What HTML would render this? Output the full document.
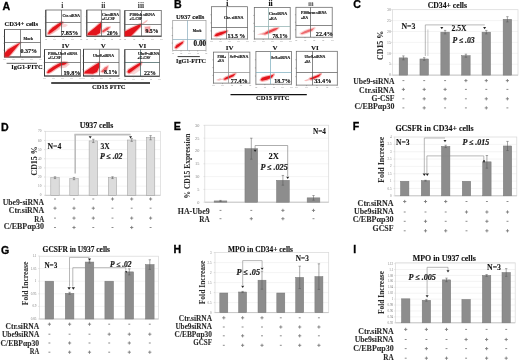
<!DOCTYPE html>
<html><head><meta charset="utf-8"><style>
html,body{margin:0;padding:0;background:#fff;width:520px;height:361px;overflow:hidden;}
svg{display:block;filter:blur(0.5px);}
</style></head><body>
<svg width="520" height="361" viewBox="0 0 520 361">
<rect width="520" height="361" fill="#fff"/>
<text x="2.50" y="9.60" font-size="10.60" font-family='"Liberation Sans", sans-serif' font-weight="bold" fill="#000" stroke="#000" stroke-width="0.3">A</text>
<text x="173.90" y="8.20" font-size="10.60" font-family='"Liberation Sans", sans-serif' font-weight="bold" fill="#000" stroke="#000" stroke-width="0.3">B</text>
<text x="353.30" y="8.20" font-size="10.60" font-family='"Liberation Sans", sans-serif' font-weight="bold" fill="#000" stroke="#000" stroke-width="0.3">C</text>
<text x="1.10" y="130.50" font-size="10.60" font-family='"Liberation Sans", sans-serif' font-weight="bold" fill="#000" stroke="#000" stroke-width="0.3">D</text>
<text x="173.80" y="129.60" font-size="10.60" font-family='"Liberation Sans", sans-serif' font-weight="bold" fill="#000" stroke="#000" stroke-width="0.3">E</text>
<text x="352.70" y="130.20" font-size="10.60" font-family='"Liberation Sans", sans-serif' font-weight="bold" fill="#000" stroke="#000" stroke-width="0.3">F</text>
<text x="1.10" y="253.90" font-size="10.60" font-family='"Liberation Sans", sans-serif' font-weight="bold" fill="#000" stroke="#000" stroke-width="0.3">G</text>
<text x="173.60" y="253.30" font-size="10.60" font-family='"Liberation Sans", sans-serif' font-weight="bold" fill="#000" stroke="#000" stroke-width="0.3">H</text>
<text x="353.30" y="253.30" font-size="10.60" font-family='"Liberation Sans", sans-serif' font-weight="bold" fill="#000" stroke="#000" stroke-width="0.3">I</text>
<text x="4.60" y="26.00" font-size="6.55" font-family='"Liberation Serif", serif' font-weight="bold" fill="#111" textLength="33.40" lengthAdjust="spacingAndGlyphs" stroke="#111" stroke-width="0.12">CD34+ cells</text>
<rect x="4.50" y="29.50" width="36.00" height="27.50" fill="#fff" stroke="#777" stroke-width="0.9" />
<line x1="4.50" y1="29.50" x2="4.50" y2="57.00" stroke="#333" stroke-width="0.9" />
<line x1="4.50" y1="57.00" x2="40.50" y2="57.00" stroke="#333" stroke-width="0.9" />
<path d="M4.8,56.8 L4.8,53 L8,49.5 L14,46 L20.5,42.5 L16.5,47.5 L11.5,53.5 L8.5,56.8 Z" fill="none" stroke="#f05a5a" stroke-width="2.2" opacity="0.45" stroke-linejoin="round"/>
<path d="M4.8,56.8 L4.8,53 L8,49.5 L14,46 L20.5,42.5 L16.5,47.5 L11.5,53.5 L8.5,56.8 Z" fill="#e3141c" stroke="none" stroke-width="1" opacity="1"/>
<line x1="20.50" y1="29.50" x2="20.50" y2="57.00" stroke="#555" stroke-width="0.7" />
<line x1="4.50" y1="42.50" x2="40.50" y2="42.50" stroke="#555" stroke-width="0.7" />
<text x="23.50" y="39.50" font-size="4.08" font-family='"Liberation Serif", serif' font-weight="bold" fill="#111" textLength="9.50" lengthAdjust="spacingAndGlyphs" stroke="#111" stroke-width="0.14">Mock</text>
<text x="20.50" y="53.20" font-size="6.18" font-family='"Liberation Serif", serif' font-weight="bold" fill="#000" textLength="16.50" lengthAdjust="spacingAndGlyphs" stroke="#000" stroke-width="0.12">0.37%</text>
<line x1="4.50" y1="57.00" x2="4.50" y2="58.00" stroke="#666" stroke-width="0.4" />
<text x="4.50" y="60.30" font-size="2.50" font-family='"Liberation Serif", serif' font-weight="normal" fill="#666" text-anchor="middle">10</text>
<line x1="13.50" y1="57.00" x2="13.50" y2="58.00" stroke="#666" stroke-width="0.4" />
<text x="13.50" y="60.30" font-size="2.50" font-family='"Liberation Serif", serif' font-weight="normal" fill="#666" text-anchor="middle">10</text>
<line x1="22.50" y1="57.00" x2="22.50" y2="58.00" stroke="#666" stroke-width="0.4" />
<text x="22.50" y="60.30" font-size="2.50" font-family='"Liberation Serif", serif' font-weight="normal" fill="#666" text-anchor="middle">10</text>
<line x1="31.50" y1="57.00" x2="31.50" y2="58.00" stroke="#666" stroke-width="0.4" />
<text x="31.50" y="60.30" font-size="2.50" font-family='"Liberation Serif", serif' font-weight="normal" fill="#666" text-anchor="middle">10</text>
<line x1="40.50" y1="57.00" x2="40.50" y2="58.00" stroke="#666" stroke-width="0.4" />
<text x="40.50" y="60.30" font-size="2.50" font-family='"Liberation Serif", serif' font-weight="normal" fill="#666" text-anchor="middle">10</text>
<line x1="3.50" y1="50.12" x2="4.50" y2="50.12" stroke="#666" stroke-width="0.5" />
<line x1="3.50" y1="43.25" x2="4.50" y2="43.25" stroke="#666" stroke-width="0.5" />
<line x1="3.50" y1="36.38" x2="4.50" y2="36.38" stroke="#666" stroke-width="0.5" />
<text x="11.20" y="68.80" font-size="6.42" font-family='"Liberation Serif", serif' font-weight="bold" fill="#111" textLength="31.40" lengthAdjust="spacingAndGlyphs" stroke="#111" stroke-width="0.12">IgG1-FITC</text>
<line x1="6.60" y1="63.30" x2="37.00" y2="63.30" stroke="#333" stroke-width="0.8" />
<text x="62.40" y="7.80" font-size="7.50" font-family='"Liberation Serif", serif' font-weight="bold" fill="#333" text-anchor="middle">i</text>
<rect x="45.80" y="10.00" width="35.20" height="26.40" fill="#fff" stroke="#777" stroke-width="0.9" />
<line x1="45.80" y1="10.00" x2="45.80" y2="36.40" stroke="#333" stroke-width="0.9" />
<line x1="45.80" y1="36.40" x2="81.00" y2="36.40" stroke="#333" stroke-width="0.9" />
<path d="M48,33.5 L49.5,30.5 L53,27.3 L57.5,24.3 L61.5,21.8 L63,22.5 L60.5,25.5 L56,29.2 L51.5,32.5 L49,34 Z" fill="none" stroke="#f05a5a" stroke-width="2.2" opacity="0.45" stroke-linejoin="round"/>
<path d="M47,35 L48,32 L52,28.5 L56,27 L60,25 L60,29 L54,33 L49,35.5 Z" fill="#f09090" stroke="none" stroke-width="1" opacity="0.45"/>
<path d="M48,33.5 L49.5,30.5 L53,27.3 L57.5,24.3 L61.5,21.8 L63,22.5 L60.5,25.5 L56,29.2 L51.5,32.5 L49,34 Z" fill="#e3141c" stroke="none" stroke-width="1" opacity="1"/>
<path d="M61,24.5 L65,23.8 L68,25 L65.5,27 L61.5,27.5 Z" fill="#f09090" stroke="none" stroke-width="1" opacity="0.35"/>
<line x1="61.50" y1="10.00" x2="61.50" y2="36.40" stroke="#555" stroke-width="0.7" />
<line x1="45.80" y1="22.50" x2="81.00" y2="22.50" stroke="#555" stroke-width="0.7" />
<text x="62.50" y="16.50" font-size="3.88" font-family='"Liberation Serif", serif' font-weight="bold" fill="#111" textLength="17.50" lengthAdjust="spacingAndGlyphs" stroke="#111" stroke-width="0.14">Ctr. siRNA</text>
<text x="61.20" y="34.80" font-size="6.40" font-family='"Liberation Serif", serif' font-weight="bold" fill="#000" textLength="17.10" lengthAdjust="spacingAndGlyphs" stroke="#000" stroke-width="0.12">7.85%</text>
<line x1="45.80" y1="36.40" x2="45.80" y2="37.40" stroke="#666" stroke-width="0.4" />
<text x="45.80" y="39.70" font-size="2.50" font-family='"Liberation Serif", serif' font-weight="normal" fill="#666" text-anchor="middle">10</text>
<line x1="54.60" y1="36.40" x2="54.60" y2="37.40" stroke="#666" stroke-width="0.4" />
<text x="54.60" y="39.70" font-size="2.50" font-family='"Liberation Serif", serif' font-weight="normal" fill="#666" text-anchor="middle">10</text>
<line x1="63.40" y1="36.40" x2="63.40" y2="37.40" stroke="#666" stroke-width="0.4" />
<text x="63.40" y="39.70" font-size="2.50" font-family='"Liberation Serif", serif' font-weight="normal" fill="#666" text-anchor="middle">10</text>
<line x1="72.20" y1="36.40" x2="72.20" y2="37.40" stroke="#666" stroke-width="0.4" />
<text x="72.20" y="39.70" font-size="2.50" font-family='"Liberation Serif", serif' font-weight="normal" fill="#666" text-anchor="middle">10</text>
<line x1="81.00" y1="36.40" x2="81.00" y2="37.40" stroke="#666" stroke-width="0.4" />
<text x="81.00" y="39.70" font-size="2.50" font-family='"Liberation Serif", serif' font-weight="normal" fill="#666" text-anchor="middle">10</text>
<line x1="44.80" y1="29.80" x2="45.80" y2="29.80" stroke="#666" stroke-width="0.5" />
<line x1="44.80" y1="23.20" x2="45.80" y2="23.20" stroke="#666" stroke-width="0.5" />
<line x1="44.80" y1="16.60" x2="45.80" y2="16.60" stroke="#666" stroke-width="0.5" />
<text x="103.30" y="7.80" font-size="7.50" font-family='"Liberation Serif", serif' font-weight="bold" fill="#333" text-anchor="middle">ii</text>
<rect x="86.80" y="10.00" width="33.20" height="26.20" fill="#fff" stroke="#777" stroke-width="0.9" />
<line x1="86.80" y1="10.00" x2="86.80" y2="36.20" stroke="#333" stroke-width="0.9" />
<line x1="86.80" y1="36.20" x2="120.00" y2="36.20" stroke="#333" stroke-width="0.9" />
<path d="M87.5,35 L88,33 L95,27.5 L101.2,22.2 L101.2,26 L100,33 L96,35.2 Z" fill="none" stroke="#f05a5a" stroke-width="2.2" opacity="0.45" stroke-linejoin="round"/>
<path d="M102,31 L107,27.5 L110,27 L108,29.5 L103,32.5 Z" fill="none" stroke="#f05a5a" stroke-width="2.2" opacity="0.32" stroke-linejoin="round"/>
<path d="M87.5,35 L88,33 L95,27.5 L101.2,22.2 L101.2,26 L100,33 L96,35.2 Z" fill="#e3141c" stroke="none" stroke-width="1" opacity="1"/>
<path d="M102,31 L107,27.5 L110,27 L108,29.5 L103,32.5 Z" fill="#e3141c" stroke="none" stroke-width="1" opacity="0.7"/>
<line x1="101.50" y1="10.00" x2="101.50" y2="36.20" stroke="#555" stroke-width="0.7" />
<line x1="86.80" y1="22.50" x2="120.00" y2="22.50" stroke="#555" stroke-width="0.7" />
<text x="102.00" y="15.80" font-size="3.97" font-family='"Liberation Serif", serif' font-weight="bold" fill="#111" textLength="17.00" lengthAdjust="spacingAndGlyphs" stroke="#111" stroke-width="0.14">Ctr.siRNA</text>
<text x="102.00" y="19.80" font-size="3.82" font-family='"Liberation Serif", serif' font-weight="bold" fill="#111" textLength="13.00" lengthAdjust="spacingAndGlyphs" stroke="#111" stroke-width="0.14">+G-CSF</text>
<text x="107.00" y="34.80" font-size="5.67" font-family='"Liberation Serif", serif' font-weight="bold" fill="#000" textLength="11.00" lengthAdjust="spacingAndGlyphs" stroke="#000" stroke-width="0.12">20%</text>
<line x1="86.80" y1="36.20" x2="86.80" y2="37.20" stroke="#666" stroke-width="0.4" />
<text x="86.80" y="39.50" font-size="2.50" font-family='"Liberation Serif", serif' font-weight="normal" fill="#666" text-anchor="middle">10</text>
<line x1="95.10" y1="36.20" x2="95.10" y2="37.20" stroke="#666" stroke-width="0.4" />
<text x="95.10" y="39.50" font-size="2.50" font-family='"Liberation Serif", serif' font-weight="normal" fill="#666" text-anchor="middle">10</text>
<line x1="103.40" y1="36.20" x2="103.40" y2="37.20" stroke="#666" stroke-width="0.4" />
<text x="103.40" y="39.50" font-size="2.50" font-family='"Liberation Serif", serif' font-weight="normal" fill="#666" text-anchor="middle">10</text>
<line x1="111.70" y1="36.20" x2="111.70" y2="37.20" stroke="#666" stroke-width="0.4" />
<text x="111.70" y="39.50" font-size="2.50" font-family='"Liberation Serif", serif' font-weight="normal" fill="#666" text-anchor="middle">10</text>
<line x1="120.00" y1="36.20" x2="120.00" y2="37.20" stroke="#666" stroke-width="0.4" />
<text x="120.00" y="39.50" font-size="2.50" font-family='"Liberation Serif", serif' font-weight="normal" fill="#666" text-anchor="middle">10</text>
<line x1="85.80" y1="29.65" x2="86.80" y2="29.65" stroke="#666" stroke-width="0.5" />
<line x1="85.80" y1="23.10" x2="86.80" y2="23.10" stroke="#666" stroke-width="0.5" />
<line x1="85.80" y1="16.55" x2="86.80" y2="16.55" stroke="#666" stroke-width="0.5" />
<text x="141.00" y="7.80" font-size="7.50" font-family='"Liberation Serif", serif' font-weight="bold" fill="#333" text-anchor="middle">iii</text>
<rect x="124.80" y="10.50" width="36.50" height="25.70" fill="#fff" stroke="#777" stroke-width="0.9" />
<line x1="124.80" y1="10.50" x2="124.80" y2="36.20" stroke="#333" stroke-width="0.9" />
<line x1="124.80" y1="36.20" x2="161.30" y2="36.20" stroke="#333" stroke-width="0.9" />
<path d="M125,36 L125,31.5 L131,28.3 L137,25.6 L141,23.8 L140.5,26.5 L135.5,31.5 L131,36 Z" fill="none" stroke="#f05a5a" stroke-width="2.2" opacity="0.45" stroke-linejoin="round"/>
<path d="M145,27 L150,26.5 L150,32 L145.5,32 Z" fill="none" stroke="#f05a5a" stroke-width="2.2" opacity="0.16" stroke-linejoin="round"/>
<path d="M125,36 L125,31.5 L131,28.3 L137,25.6 L141,23.8 L140.5,26.5 L135.5,31.5 L131,36 Z" fill="#e3141c" stroke="none" stroke-width="1" opacity="1"/>
<path d="M141,24 L146,20.5 L148,19.5 L147,21.5 L143,24.5 Z" fill="#f09090" stroke="none" stroke-width="1" opacity="0.6"/>
<path d="M145,27 L150,26.5 L150,32 L145.5,32 Z" fill="#e3141c" stroke="none" stroke-width="1" opacity="0.35"/>
<line x1="141.50" y1="10.50" x2="141.50" y2="36.20" stroke="#555" stroke-width="0.7" />
<line x1="124.80" y1="24.50" x2="161.30" y2="24.50" stroke="#555" stroke-width="0.7" />
<text x="129.50" y="16.00" font-size="4.36" font-family='"Liberation Serif", serif' font-weight="bold" fill="#111" textLength="25.50" lengthAdjust="spacingAndGlyphs" stroke="#111" stroke-width="0.14">P300sh siRNA</text>
<text x="129.50" y="20.00" font-size="3.68" font-family='"Liberation Serif", serif' font-weight="bold" fill="#111" textLength="12.50" lengthAdjust="spacingAndGlyphs" stroke="#111" stroke-width="0.14">+G-CSF</text>
<text x="145.50" y="32.80" font-size="5.95" font-family='"Liberation Serif", serif' font-weight="bold" fill="#000" textLength="13.00" lengthAdjust="spacingAndGlyphs" stroke="#000" stroke-width="0.12">9.5%</text>
<line x1="124.80" y1="36.20" x2="124.80" y2="37.20" stroke="#666" stroke-width="0.4" />
<text x="124.80" y="39.50" font-size="2.50" font-family='"Liberation Serif", serif' font-weight="normal" fill="#666" text-anchor="middle">10</text>
<line x1="133.93" y1="36.20" x2="133.93" y2="37.20" stroke="#666" stroke-width="0.4" />
<text x="133.93" y="39.50" font-size="2.50" font-family='"Liberation Serif", serif' font-weight="normal" fill="#666" text-anchor="middle">10</text>
<line x1="143.05" y1="36.20" x2="143.05" y2="37.20" stroke="#666" stroke-width="0.4" />
<text x="143.05" y="39.50" font-size="2.50" font-family='"Liberation Serif", serif' font-weight="normal" fill="#666" text-anchor="middle">10</text>
<line x1="152.18" y1="36.20" x2="152.18" y2="37.20" stroke="#666" stroke-width="0.4" />
<text x="152.18" y="39.50" font-size="2.50" font-family='"Liberation Serif", serif' font-weight="normal" fill="#666" text-anchor="middle">10</text>
<line x1="161.30" y1="36.20" x2="161.30" y2="37.20" stroke="#666" stroke-width="0.4" />
<text x="161.30" y="39.50" font-size="2.50" font-family='"Liberation Serif", serif' font-weight="normal" fill="#666" text-anchor="middle">10</text>
<line x1="123.80" y1="29.78" x2="124.80" y2="29.78" stroke="#666" stroke-width="0.5" />
<line x1="123.80" y1="23.35" x2="124.80" y2="23.35" stroke="#666" stroke-width="0.5" />
<line x1="123.80" y1="16.93" x2="124.80" y2="16.93" stroke="#666" stroke-width="0.5" />
<text x="65.70" y="48.20" font-size="7.00" font-family='"Liberation Serif", serif' font-weight="bold" fill="#111" text-anchor="middle" stroke="#111" stroke-width="0.12">IV</text>
<rect x="44.50" y="49.50" width="36.00" height="26.50" fill="#fff" stroke="#777" stroke-width="0.9" />
<line x1="44.50" y1="49.50" x2="44.50" y2="76.00" stroke="#333" stroke-width="0.9" />
<line x1="44.50" y1="76.00" x2="80.50" y2="76.00" stroke="#333" stroke-width="0.9" />
<path d="M47,72.5 L48.5,70 L53,66.8 L58,64 L61,62.5 L64,62 L67.5,62.5 L65,64.5 L61,65.5 L56,68.5 L50.5,72.3 L48,73.3 Z" fill="none" stroke="#f05a5a" stroke-width="2.2" opacity="0.45" stroke-linejoin="round"/>
<path d="M58,64 L66,62.5 L70,64 L66,67.5 L60,68.5 Z" fill="#f09090" stroke="none" stroke-width="1" opacity="0.45"/>
<path d="M47,72.5 L48.5,70 L53,66.8 L58,64 L61,62.5 L64,62 L67.5,62.5 L65,64.5 L61,65.5 L56,68.5 L50.5,72.3 L48,73.3 Z" fill="#e3141c" stroke="none" stroke-width="1" opacity="1"/>
<line x1="61.50" y1="49.50" x2="61.50" y2="76.00" stroke="#555" stroke-width="0.7" />
<line x1="44.50" y1="62.50" x2="80.50" y2="62.50" stroke="#555" stroke-width="0.7" />
<text x="48.00" y="55.00" font-size="3.88" font-family='"Liberation Serif", serif' font-weight="bold" fill="#111" textLength="29.50" lengthAdjust="spacingAndGlyphs" stroke="#111" stroke-width="0.14">P300+Ubc9 siRNA</text>
<text x="48.00" y="59.00" font-size="3.82" font-family='"Liberation Serif", serif' font-weight="bold" fill="#111" textLength="13.00" lengthAdjust="spacingAndGlyphs" stroke="#111" stroke-width="0.14">+G-CSF</text>
<text x="63.50" y="74.50" font-size="6.37" font-family='"Liberation Serif", serif' font-weight="bold" fill="#000" textLength="17.00" lengthAdjust="spacingAndGlyphs" stroke="#000" stroke-width="0.12">19.8%</text>
<line x1="44.50" y1="76.00" x2="44.50" y2="77.00" stroke="#666" stroke-width="0.4" />
<text x="44.50" y="79.30" font-size="2.50" font-family='"Liberation Serif", serif' font-weight="normal" fill="#666" text-anchor="middle">10</text>
<line x1="53.50" y1="76.00" x2="53.50" y2="77.00" stroke="#666" stroke-width="0.4" />
<text x="53.50" y="79.30" font-size="2.50" font-family='"Liberation Serif", serif' font-weight="normal" fill="#666" text-anchor="middle">10</text>
<line x1="62.50" y1="76.00" x2="62.50" y2="77.00" stroke="#666" stroke-width="0.4" />
<text x="62.50" y="79.30" font-size="2.50" font-family='"Liberation Serif", serif' font-weight="normal" fill="#666" text-anchor="middle">10</text>
<line x1="71.50" y1="76.00" x2="71.50" y2="77.00" stroke="#666" stroke-width="0.4" />
<text x="71.50" y="79.30" font-size="2.50" font-family='"Liberation Serif", serif' font-weight="normal" fill="#666" text-anchor="middle">10</text>
<line x1="80.50" y1="76.00" x2="80.50" y2="77.00" stroke="#666" stroke-width="0.4" />
<text x="80.50" y="79.30" font-size="2.50" font-family='"Liberation Serif", serif' font-weight="normal" fill="#666" text-anchor="middle">10</text>
<line x1="43.50" y1="69.38" x2="44.50" y2="69.38" stroke="#666" stroke-width="0.5" />
<line x1="43.50" y1="62.75" x2="44.50" y2="62.75" stroke="#666" stroke-width="0.5" />
<line x1="43.50" y1="56.12" x2="44.50" y2="56.12" stroke="#666" stroke-width="0.5" />
<text x="103.30" y="48.00" font-size="7.00" font-family='"Liberation Serif", serif' font-weight="bold" fill="#111" text-anchor="middle" stroke="#111" stroke-width="0.12">V</text>
<rect x="83.50" y="49.25" width="35.50" height="26.75" fill="#fff" stroke="#777" stroke-width="0.9" />
<line x1="83.50" y1="49.25" x2="83.50" y2="76.00" stroke="#333" stroke-width="0.9" />
<line x1="83.50" y1="76.00" x2="119.00" y2="76.00" stroke="#333" stroke-width="0.9" />
<path d="M84,73.5 L85,71.5 L91,67.5 L99.3,62.3 L99.3,67 L97,72 L93,73.8 Z" fill="none" stroke="#f05a5a" stroke-width="2.2" opacity="0.45" stroke-linejoin="round"/>
<path d="M101,71.5 L105,67.5 L108,66 L107,69.5 L103,72.5 Z" fill="none" stroke="#f05a5a" stroke-width="2.2" opacity="0.27" stroke-linejoin="round"/>
<path d="M84,73.5 L85,71.5 L91,67.5 L99.3,62.3 L99.3,67 L97,72 L93,73.8 Z" fill="#e3141c" stroke="none" stroke-width="1" opacity="1"/>
<path d="M101,71.5 L105,67.5 L108,66 L107,69.5 L103,72.5 Z" fill="#e3141c" stroke="none" stroke-width="1" opacity="0.6"/>
<line x1="99.50" y1="49.25" x2="99.50" y2="76.00" stroke="#555" stroke-width="0.7" />
<line x1="83.50" y1="62.50" x2="119.00" y2="62.50" stroke="#555" stroke-width="0.7" />
<text x="93.00" y="57.00" font-size="4.09" font-family='"Liberation Serif", serif' font-weight="bold" fill="#111" textLength="21.00" lengthAdjust="spacingAndGlyphs" stroke="#111" stroke-width="0.14">Ubc9-siRNA</text>
<text x="104.00" y="74.00" font-size="6.18" font-family='"Liberation Serif", serif' font-weight="bold" fill="#000" textLength="13.50" lengthAdjust="spacingAndGlyphs" stroke="#000" stroke-width="0.12">8.1%</text>
<line x1="83.50" y1="76.00" x2="83.50" y2="77.00" stroke="#666" stroke-width="0.4" />
<text x="83.50" y="79.30" font-size="2.50" font-family='"Liberation Serif", serif' font-weight="normal" fill="#666" text-anchor="middle">10</text>
<line x1="92.38" y1="76.00" x2="92.38" y2="77.00" stroke="#666" stroke-width="0.4" />
<text x="92.38" y="79.30" font-size="2.50" font-family='"Liberation Serif", serif' font-weight="normal" fill="#666" text-anchor="middle">10</text>
<line x1="101.25" y1="76.00" x2="101.25" y2="77.00" stroke="#666" stroke-width="0.4" />
<text x="101.25" y="79.30" font-size="2.50" font-family='"Liberation Serif", serif' font-weight="normal" fill="#666" text-anchor="middle">10</text>
<line x1="110.12" y1="76.00" x2="110.12" y2="77.00" stroke="#666" stroke-width="0.4" />
<text x="110.12" y="79.30" font-size="2.50" font-family='"Liberation Serif", serif' font-weight="normal" fill="#666" text-anchor="middle">10</text>
<line x1="119.00" y1="76.00" x2="119.00" y2="77.00" stroke="#666" stroke-width="0.4" />
<text x="119.00" y="79.30" font-size="2.50" font-family='"Liberation Serif", serif' font-weight="normal" fill="#666" text-anchor="middle">10</text>
<line x1="82.50" y1="69.31" x2="83.50" y2="69.31" stroke="#666" stroke-width="0.5" />
<line x1="82.50" y1="62.62" x2="83.50" y2="62.62" stroke="#666" stroke-width="0.5" />
<line x1="82.50" y1="55.94" x2="83.50" y2="55.94" stroke="#666" stroke-width="0.5" />
<text x="142.40" y="47.80" font-size="7.00" font-family='"Liberation Serif", serif' font-weight="bold" fill="#111" text-anchor="middle" stroke="#111" stroke-width="0.12">VI</text>
<rect x="124.80" y="49.50" width="34.70" height="26.75" fill="#fff" stroke="#777" stroke-width="0.9" />
<line x1="124.80" y1="49.50" x2="124.80" y2="76.25" stroke="#333" stroke-width="0.9" />
<line x1="124.80" y1="76.25" x2="159.50" y2="76.25" stroke="#333" stroke-width="0.9" />
<path d="M127.3,72 L128.5,69.8 L134,66.3 L139.5,63 L141.5,62.2 L141,64.5 L136,68.3 L131,72 L129,73.3 Z" fill="none" stroke="#f05a5a" stroke-width="2.2" opacity="0.45" stroke-linejoin="round"/>
<path d="M129,73.5 L135,68.5 L140.5,64.5 L140.5,70 L134,74.5 Z" fill="#f09090" stroke="none" stroke-width="1" opacity="0.35"/>
<path d="M127.3,72 L128.5,69.8 L134,66.3 L139.5,63 L141.5,62.2 L141,64.5 L136,68.3 L131,72 L129,73.3 Z" fill="#e3141c" stroke="none" stroke-width="1" opacity="1"/>
<line x1="140.50" y1="49.50" x2="140.50" y2="76.25" stroke="#355" stroke-width="0.7" />
<line x1="124.80" y1="62.50" x2="159.50" y2="62.50" stroke="#355" stroke-width="0.7" />
<text x="138.00" y="54.50" font-size="4.19" font-family='"Liberation Serif", serif' font-weight="bold" fill="#111" textLength="21.50" lengthAdjust="spacingAndGlyphs" stroke="#111" stroke-width="0.14">Ubc9-siRNA</text>
<text x="137.50" y="59.00" font-size="3.82" font-family='"Liberation Serif", serif' font-weight="bold" fill="#111" textLength="13.00" lengthAdjust="spacingAndGlyphs" stroke="#111" stroke-width="0.14">+G-CSF</text>
<text x="144.00" y="74.60" font-size="6.08" font-family='"Liberation Serif", serif' font-weight="bold" fill="#000" textLength="11.80" lengthAdjust="spacingAndGlyphs" stroke="#000" stroke-width="0.12">22%</text>
<line x1="124.80" y1="76.25" x2="124.80" y2="77.25" stroke="#666" stroke-width="0.4" />
<text x="124.80" y="79.55" font-size="2.50" font-family='"Liberation Serif", serif' font-weight="normal" fill="#666" text-anchor="middle">10</text>
<line x1="133.47" y1="76.25" x2="133.47" y2="77.25" stroke="#666" stroke-width="0.4" />
<text x="133.47" y="79.55" font-size="2.50" font-family='"Liberation Serif", serif' font-weight="normal" fill="#666" text-anchor="middle">10</text>
<line x1="142.15" y1="76.25" x2="142.15" y2="77.25" stroke="#666" stroke-width="0.4" />
<text x="142.15" y="79.55" font-size="2.50" font-family='"Liberation Serif", serif' font-weight="normal" fill="#666" text-anchor="middle">10</text>
<line x1="150.82" y1="76.25" x2="150.82" y2="77.25" stroke="#666" stroke-width="0.4" />
<text x="150.82" y="79.55" font-size="2.50" font-family='"Liberation Serif", serif' font-weight="normal" fill="#666" text-anchor="middle">10</text>
<line x1="159.50" y1="76.25" x2="159.50" y2="77.25" stroke="#666" stroke-width="0.4" />
<text x="159.50" y="79.55" font-size="2.50" font-family='"Liberation Serif", serif' font-weight="normal" fill="#666" text-anchor="middle">10</text>
<line x1="123.80" y1="69.56" x2="124.80" y2="69.56" stroke="#666" stroke-width="0.5" />
<line x1="123.80" y1="62.88" x2="124.80" y2="62.88" stroke="#666" stroke-width="0.5" />
<line x1="123.80" y1="56.19" x2="124.80" y2="56.19" stroke="#666" stroke-width="0.5" />
<line x1="51.20" y1="83.00" x2="150.00" y2="83.00" stroke="#111" stroke-width="1.4" />
<text x="92.00" y="88.80" font-size="6.61" font-family='"Liberation Serif", serif' font-weight="bold" fill="#111" textLength="33.60" lengthAdjust="spacingAndGlyphs" stroke="#111" stroke-width="0.12">CD15 FITC</text>
<text x="176.00" y="18.50" font-size="6.60" font-family='"Liberation Serif", serif' font-weight="bold" fill="#111" textLength="28.40" lengthAdjust="spacingAndGlyphs" stroke="#111" stroke-width="0.12">U937 cells</text>
<rect x="172.70" y="20.50" width="33.30" height="30.10" fill="#fff" stroke="#999" stroke-width="0.7" />
<path d="M175,47.5 L176.5,45 L180,43 L183.5,41.3 L182.5,43.5 L179,46.5 L176,48.5 Z" fill="none" stroke="#f05a5a" stroke-width="2.2" opacity="0.45" stroke-linejoin="round"/>
<path d="M175,47.5 L176.5,45 L180,43 L183.5,41.3 L182.5,43.5 L179,46.5 L176,48.5 Z" fill="#e3141c" stroke="none" stroke-width="1" opacity="1"/>
<line x1="187.50" y1="20.50" x2="187.50" y2="50.60" stroke="#8ab" stroke-width="0.7" />
<line x1="172.70" y1="39.50" x2="206.00" y2="39.50" stroke="#8ab" stroke-width="0.7" />
<text x="192.80" y="31.60" font-size="3.78" font-family='"Liberation Serif", serif' font-weight="bold" fill="#111" textLength="8.80" lengthAdjust="spacingAndGlyphs" stroke="#111" stroke-width="0.14">Mock</text>
<text x="193.60" y="46.40" font-size="7.30" font-family='"Liberation Serif", serif' font-weight="bold" fill="#000" textLength="12.40" lengthAdjust="spacingAndGlyphs" stroke="#000" stroke-width="0.12">0.00</text>
<line x1="172.70" y1="50.60" x2="172.70" y2="51.60" stroke="#666" stroke-width="0.4" />
<text x="172.70" y="53.90" font-size="2.50" font-family='"Liberation Serif", serif' font-weight="normal" fill="#666" text-anchor="middle">10</text>
<line x1="181.02" y1="50.60" x2="181.02" y2="51.60" stroke="#666" stroke-width="0.4" />
<text x="181.02" y="53.90" font-size="2.50" font-family='"Liberation Serif", serif' font-weight="normal" fill="#666" text-anchor="middle">10</text>
<line x1="189.35" y1="50.60" x2="189.35" y2="51.60" stroke="#666" stroke-width="0.4" />
<text x="189.35" y="53.90" font-size="2.50" font-family='"Liberation Serif", serif' font-weight="normal" fill="#666" text-anchor="middle">10</text>
<line x1="197.67" y1="50.60" x2="197.67" y2="51.60" stroke="#666" stroke-width="0.4" />
<text x="197.67" y="53.90" font-size="2.50" font-family='"Liberation Serif", serif' font-weight="normal" fill="#666" text-anchor="middle">10</text>
<line x1="206.00" y1="50.60" x2="206.00" y2="51.60" stroke="#666" stroke-width="0.4" />
<text x="206.00" y="53.90" font-size="2.50" font-family='"Liberation Serif", serif' font-weight="normal" fill="#666" text-anchor="middle">10</text>
<line x1="171.70" y1="43.08" x2="172.70" y2="43.08" stroke="#666" stroke-width="0.5" />
<line x1="171.70" y1="35.55" x2="172.70" y2="35.55" stroke="#666" stroke-width="0.5" />
<line x1="171.70" y1="28.02" x2="172.70" y2="28.02" stroke="#666" stroke-width="0.5" />
<line x1="177.60" y1="56.60" x2="199.80" y2="56.60" stroke="#222" stroke-width="0.9" />
<text x="176.00" y="62.70" font-size="6.14" font-family='"Liberation Serif", serif' font-weight="bold" fill="#111" textLength="30.00" lengthAdjust="spacingAndGlyphs" stroke="#111" stroke-width="0.12">IgG1-FITC</text>
<text x="227.20" y="5.60" font-size="7.50" font-family='"Liberation Serif", serif' font-weight="bold" fill="#111" text-anchor="middle" stroke="#111" stroke-width="0.12">i</text>
<rect x="211.40" y="6.70" width="36.20" height="32.30" fill="#fff" stroke="#666" stroke-width="0.75" />
<path d="M214.5,36 L216,33.8 L220,32.3 L224.5,31.2 L227.5,30.8 L226,32.6 L222,34.6 L217,36.3 Z" fill="none" stroke="#f05a5a" stroke-width="2.2" opacity="0.45" stroke-linejoin="round"/>
<path d="M214.5,36 L216,33.8 L220,32.3 L224.5,31.2 L227.5,30.8 L226,32.6 L222,34.6 L217,36.3 Z" fill="#e3141c" stroke="none" stroke-width="1" opacity="1"/>
<line x1="226.50" y1="6.70" x2="226.50" y2="39.00" stroke="#555" stroke-width="0.7" />
<line x1="211.40" y1="27.50" x2="247.60" y2="27.50" stroke="#555" stroke-width="0.7" />
<text x="223.90" y="18.70" font-size="4.32" font-family='"Liberation Serif", serif' font-weight="bold" fill="#111" textLength="19.50" lengthAdjust="spacingAndGlyphs" stroke="#111" stroke-width="0.14">Ctr. siRNA</text>
<text x="227.50" y="37.80" font-size="6.08" font-family='"Liberation Serif", serif' font-weight="bold" fill="#000" textLength="17.70" lengthAdjust="spacingAndGlyphs" stroke="#000" stroke-width="0.12">13.5 %</text>
<line x1="211.40" y1="39.00" x2="211.40" y2="40.00" stroke="#666" stroke-width="0.4" />
<text x="211.40" y="42.30" font-size="2.50" font-family='"Liberation Serif", serif' font-weight="normal" fill="#666" text-anchor="middle">10</text>
<line x1="220.45" y1="39.00" x2="220.45" y2="40.00" stroke="#666" stroke-width="0.4" />
<text x="220.45" y="42.30" font-size="2.50" font-family='"Liberation Serif", serif' font-weight="normal" fill="#666" text-anchor="middle">10</text>
<line x1="229.50" y1="39.00" x2="229.50" y2="40.00" stroke="#666" stroke-width="0.4" />
<text x="229.50" y="42.30" font-size="2.50" font-family='"Liberation Serif", serif' font-weight="normal" fill="#666" text-anchor="middle">10</text>
<line x1="238.55" y1="39.00" x2="238.55" y2="40.00" stroke="#666" stroke-width="0.4" />
<text x="238.55" y="42.30" font-size="2.50" font-family='"Liberation Serif", serif' font-weight="normal" fill="#666" text-anchor="middle">10</text>
<line x1="247.60" y1="39.00" x2="247.60" y2="40.00" stroke="#666" stroke-width="0.4" />
<text x="247.60" y="42.30" font-size="2.50" font-family='"Liberation Serif", serif' font-weight="normal" fill="#666" text-anchor="middle">10</text>
<line x1="210.40" y1="30.93" x2="211.40" y2="30.93" stroke="#666" stroke-width="0.5" />
<line x1="210.40" y1="22.85" x2="211.40" y2="22.85" stroke="#666" stroke-width="0.5" />
<line x1="210.40" y1="14.78" x2="211.40" y2="14.78" stroke="#666" stroke-width="0.5" />
<text x="270.60" y="5.60" font-size="7.50" font-family='"Liberation Serif", serif' font-weight="bold" fill="#111" text-anchor="middle" stroke="#111" stroke-width="0.12">ii</text>
<rect x="254.30" y="7.60" width="35.90" height="31.40" fill="#fff" stroke="#666" stroke-width="0.75" />
<path d="M263,34 L268,31 L274,28.5 L278.5,27.8 L276,30 L270,32.8 L265,34.5 Z" fill="none" stroke="#f05a5a" stroke-width="2.2" opacity="0.34" stroke-linejoin="round"/>
<path d="M263,34 L268,31 L274,28.5 L278.5,27.8 L276,30 L270,32.8 L265,34.5 Z" fill="#e3141c" stroke="none" stroke-width="1" opacity="0.75"/>
<path d="M257,34.5 L262,32.8 L267,33 L262,35 Z" fill="#f09090" stroke="none" stroke-width="1" opacity="0.55"/>
<line x1="268.50" y1="7.60" x2="268.50" y2="39.00" stroke="#8aa" stroke-width="0.7" />
<line x1="254.30" y1="26.50" x2="290.20" y2="26.50" stroke="#8aa" stroke-width="0.7" />
<text x="268.90" y="14.90" font-size="4.26" font-family='"Liberation Serif", serif' font-weight="bold" fill="#111" textLength="18.20" lengthAdjust="spacingAndGlyphs" stroke="#111" stroke-width="0.14">Ctr.siRNA</text>
<text x="268.90" y="19.50" font-size="4.07" font-family='"Liberation Serif", serif' font-weight="bold" fill="#111" textLength="7.80" lengthAdjust="spacingAndGlyphs" stroke="#111" stroke-width="0.14">+RA</text>
<text x="272.60" y="38.40" font-size="5.69" font-family='"Liberation Serif", serif' font-weight="bold" fill="#000" textLength="15.20" lengthAdjust="spacingAndGlyphs" stroke="#000" stroke-width="0.12">78.1%</text>
<line x1="254.30" y1="39.00" x2="254.30" y2="40.00" stroke="#666" stroke-width="0.4" />
<text x="254.30" y="42.30" font-size="2.50" font-family='"Liberation Serif", serif' font-weight="normal" fill="#666" text-anchor="middle">10</text>
<line x1="263.28" y1="39.00" x2="263.28" y2="40.00" stroke="#666" stroke-width="0.4" />
<text x="263.28" y="42.30" font-size="2.50" font-family='"Liberation Serif", serif' font-weight="normal" fill="#666" text-anchor="middle">10</text>
<line x1="272.25" y1="39.00" x2="272.25" y2="40.00" stroke="#666" stroke-width="0.4" />
<text x="272.25" y="42.30" font-size="2.50" font-family='"Liberation Serif", serif' font-weight="normal" fill="#666" text-anchor="middle">10</text>
<line x1="281.23" y1="39.00" x2="281.23" y2="40.00" stroke="#666" stroke-width="0.4" />
<text x="281.23" y="42.30" font-size="2.50" font-family='"Liberation Serif", serif' font-weight="normal" fill="#666" text-anchor="middle">10</text>
<line x1="290.20" y1="39.00" x2="290.20" y2="40.00" stroke="#666" stroke-width="0.4" />
<text x="290.20" y="42.30" font-size="2.50" font-family='"Liberation Serif", serif' font-weight="normal" fill="#666" text-anchor="middle">10</text>
<line x1="253.30" y1="31.15" x2="254.30" y2="31.15" stroke="#666" stroke-width="0.5" />
<line x1="253.30" y1="23.30" x2="254.30" y2="23.30" stroke="#666" stroke-width="0.5" />
<line x1="253.30" y1="15.45" x2="254.30" y2="15.45" stroke="#666" stroke-width="0.5" />
<text x="310.90" y="5.80" font-size="6.20" font-family='"Liberation Serif", serif' font-weight="bold" fill="#555" text-anchor="middle" stroke="#555" stroke-width="0.12">iii</text>
<rect x="295.90" y="7.30" width="36.30" height="29.90" fill="#fff" stroke="#666" stroke-width="0.75" />
<path d="M300.5,33.5 L305,31 L310,29.3 L314.5,28 L312,30.8 L306,33 L302,34.3 Z" fill="none" stroke="#f05a5a" stroke-width="2.2" opacity="0.25" stroke-linejoin="round"/>
<path d="M300.5,33.5 L305,31 L310,29.3 L314.5,28 L312,30.8 L306,33 L302,34.3 Z" fill="#e3141c" stroke="none" stroke-width="1" opacity="0.55"/>
<line x1="310.50" y1="7.30" x2="310.50" y2="37.20" stroke="#555" stroke-width="0.7" />
<line x1="295.90" y1="25.50" x2="332.20" y2="25.50" stroke="#555" stroke-width="0.7" />
<text x="301.00" y="14.40" font-size="3.89" font-family='"Liberation Serif", serif' font-weight="bold" fill="#111" textLength="25.80" lengthAdjust="spacingAndGlyphs" stroke="#111" stroke-width="0.14">P300sens siRNA</text>
<text x="301.00" y="19.30" font-size="3.65" font-family='"Liberation Serif", serif' font-weight="bold" fill="#111" textLength="7.00" lengthAdjust="spacingAndGlyphs" stroke="#111" stroke-width="0.14">+RA</text>
<text x="315.80" y="36.00" font-size="6.40" font-family='"Liberation Serif", serif' font-weight="bold" fill="#000" textLength="17.10" lengthAdjust="spacingAndGlyphs" stroke="#000" stroke-width="0.12">22.4%</text>
<line x1="295.90" y1="37.20" x2="295.90" y2="38.20" stroke="#666" stroke-width="0.4" />
<text x="295.90" y="40.50" font-size="2.50" font-family='"Liberation Serif", serif' font-weight="normal" fill="#666" text-anchor="middle">10</text>
<line x1="304.97" y1="37.20" x2="304.97" y2="38.20" stroke="#666" stroke-width="0.4" />
<text x="304.97" y="40.50" font-size="2.50" font-family='"Liberation Serif", serif' font-weight="normal" fill="#666" text-anchor="middle">10</text>
<line x1="314.05" y1="37.20" x2="314.05" y2="38.20" stroke="#666" stroke-width="0.4" />
<text x="314.05" y="40.50" font-size="2.50" font-family='"Liberation Serif", serif' font-weight="normal" fill="#666" text-anchor="middle">10</text>
<line x1="323.12" y1="37.20" x2="323.12" y2="38.20" stroke="#666" stroke-width="0.4" />
<text x="323.12" y="40.50" font-size="2.50" font-family='"Liberation Serif", serif' font-weight="normal" fill="#666" text-anchor="middle">10</text>
<line x1="332.20" y1="37.20" x2="332.20" y2="38.20" stroke="#666" stroke-width="0.4" />
<text x="332.20" y="40.50" font-size="2.50" font-family='"Liberation Serif", serif' font-weight="normal" fill="#666" text-anchor="middle">10</text>
<line x1="294.90" y1="29.72" x2="295.90" y2="29.72" stroke="#666" stroke-width="0.5" />
<line x1="294.90" y1="22.25" x2="295.90" y2="22.25" stroke="#666" stroke-width="0.5" />
<line x1="294.90" y1="14.77" x2="295.90" y2="14.77" stroke="#666" stroke-width="0.5" />
<text x="229.70" y="49.80" font-size="7.00" font-family='"Liberation Serif", serif' font-weight="bold" fill="#111" text-anchor="middle" stroke="#111" stroke-width="0.12">IV</text>
<rect x="213.40" y="52.10" width="36.50" height="31.00" fill="#fff" stroke="#666" stroke-width="0.75" />
<path d="M223.5,79.2 L226,77.2 L231,75.2 L235.5,73.5 L233.5,76.2 L229,78.2 L225,79.8 Z" fill="none" stroke="#f05a5a" stroke-width="2.2" opacity="0.45" stroke-linejoin="round"/>
<path d="M223.5,79.2 L226,77.2 L231,75.2 L235.5,73.5 L233.5,76.2 L229,78.2 L225,79.8 Z" fill="#e3141c" stroke="none" stroke-width="1" opacity="1"/>
<path d="M216,80 L220,78.2 L223,79.2 L219,80.8 Z" fill="#f09090" stroke="none" stroke-width="1" opacity="0.6"/>
<line x1="228.50" y1="52.10" x2="228.50" y2="83.10" stroke="#888" stroke-width="0.7" />
<line x1="213.40" y1="72.50" x2="249.90" y2="72.50" stroke="#888" stroke-width="0.7" />
<text x="217.50" y="57.80" font-size="3.33" font-family='"Liberation Serif", serif' font-weight="bold" fill="#111" textLength="8.50" lengthAdjust="spacingAndGlyphs" stroke="#111" stroke-width="0.14">P300+</text>
<text x="217.50" y="62.20" font-size="3.39" font-family='"Liberation Serif", serif' font-weight="bold" fill="#111" textLength="6.50" lengthAdjust="spacingAndGlyphs" stroke="#111" stroke-width="0.14">+RA</text>
<text x="229.70" y="57.80" font-size="4.19" font-family='"Liberation Serif", serif' font-weight="bold" fill="#111" textLength="18.60" lengthAdjust="spacingAndGlyphs" stroke="#111" stroke-width="0.14">Se9-siRNA</text>
<text x="230.80" y="82.50" font-size="6.37" font-family='"Liberation Serif", serif' font-weight="bold" fill="#000" textLength="17.00" lengthAdjust="spacingAndGlyphs" stroke="#000" stroke-width="0.12">77.4%</text>
<line x1="213.40" y1="83.10" x2="213.40" y2="84.10" stroke="#666" stroke-width="0.4" />
<text x="213.40" y="86.40" font-size="2.50" font-family='"Liberation Serif", serif' font-weight="normal" fill="#666" text-anchor="middle">10</text>
<line x1="222.53" y1="83.10" x2="222.53" y2="84.10" stroke="#666" stroke-width="0.4" />
<text x="222.53" y="86.40" font-size="2.50" font-family='"Liberation Serif", serif' font-weight="normal" fill="#666" text-anchor="middle">10</text>
<line x1="231.65" y1="83.10" x2="231.65" y2="84.10" stroke="#666" stroke-width="0.4" />
<text x="231.65" y="86.40" font-size="2.50" font-family='"Liberation Serif", serif' font-weight="normal" fill="#666" text-anchor="middle">10</text>
<line x1="240.78" y1="83.10" x2="240.78" y2="84.10" stroke="#666" stroke-width="0.4" />
<text x="240.78" y="86.40" font-size="2.50" font-family='"Liberation Serif", serif' font-weight="normal" fill="#666" text-anchor="middle">10</text>
<line x1="249.90" y1="83.10" x2="249.90" y2="84.10" stroke="#666" stroke-width="0.4" />
<text x="249.90" y="86.40" font-size="2.50" font-family='"Liberation Serif", serif' font-weight="normal" fill="#666" text-anchor="middle">10</text>
<line x1="212.40" y1="75.35" x2="213.40" y2="75.35" stroke="#666" stroke-width="0.5" />
<line x1="212.40" y1="67.60" x2="213.40" y2="67.60" stroke="#666" stroke-width="0.5" />
<line x1="212.40" y1="59.85" x2="213.40" y2="59.85" stroke="#666" stroke-width="0.5" />
<text x="275.00" y="49.80" font-size="7.00" font-family='"Liberation Serif", serif' font-weight="bold" fill="#111" text-anchor="middle" stroke="#111" stroke-width="0.12">V</text>
<rect x="255.90" y="51.60" width="35.60" height="32.60" fill="#fff" stroke="#666" stroke-width="0.75" />
<path d="M260.5,80 L262,77.8 L266,76.5 L271,75.5 L274,74.3 L272,77.5 L267,79.8 L262,80.8 Z" fill="none" stroke="#f05a5a" stroke-width="2.2" opacity="0.45" stroke-linejoin="round"/>
<path d="M260.5,80 L262,77.8 L266,76.5 L271,75.5 L274,74.3 L272,77.5 L267,79.8 L262,80.8 Z" fill="#e3141c" stroke="none" stroke-width="1" opacity="1"/>
<line x1="270.50" y1="51.60" x2="270.50" y2="84.20" stroke="#7ab" stroke-width="0.7" />
<line x1="255.90" y1="72.50" x2="291.50" y2="72.50" stroke="#7ab" stroke-width="0.7" />
<text x="271.00" y="59.10" font-size="4.34" font-family='"Liberation Serif", serif' font-weight="bold" fill="#111" textLength="19.30" lengthAdjust="spacingAndGlyphs" stroke="#111" stroke-width="0.14">Se9-siRNA</text>
<text x="274.20" y="83.10" font-size="6.22" font-family='"Liberation Serif", serif' font-weight="bold" fill="#000" textLength="16.60" lengthAdjust="spacingAndGlyphs" stroke="#000" stroke-width="0.12">18.7%</text>
<line x1="255.90" y1="84.20" x2="255.90" y2="85.20" stroke="#666" stroke-width="0.4" />
<text x="255.90" y="87.50" font-size="2.50" font-family='"Liberation Serif", serif' font-weight="normal" fill="#666" text-anchor="middle">10</text>
<line x1="264.80" y1="84.20" x2="264.80" y2="85.20" stroke="#666" stroke-width="0.4" />
<text x="264.80" y="87.50" font-size="2.50" font-family='"Liberation Serif", serif' font-weight="normal" fill="#666" text-anchor="middle">10</text>
<line x1="273.70" y1="84.20" x2="273.70" y2="85.20" stroke="#666" stroke-width="0.4" />
<text x="273.70" y="87.50" font-size="2.50" font-family='"Liberation Serif", serif' font-weight="normal" fill="#666" text-anchor="middle">10</text>
<line x1="282.60" y1="84.20" x2="282.60" y2="85.20" stroke="#666" stroke-width="0.4" />
<text x="282.60" y="87.50" font-size="2.50" font-family='"Liberation Serif", serif' font-weight="normal" fill="#666" text-anchor="middle">10</text>
<line x1="291.50" y1="84.20" x2="291.50" y2="85.20" stroke="#666" stroke-width="0.4" />
<text x="291.50" y="87.50" font-size="2.50" font-family='"Liberation Serif", serif' font-weight="normal" fill="#666" text-anchor="middle">10</text>
<line x1="254.90" y1="76.05" x2="255.90" y2="76.05" stroke="#666" stroke-width="0.5" />
<line x1="254.90" y1="67.90" x2="255.90" y2="67.90" stroke="#666" stroke-width="0.5" />
<line x1="254.90" y1="59.75" x2="255.90" y2="59.75" stroke="#666" stroke-width="0.5" />
<text x="314.90" y="49.80" font-size="7.00" font-family='"Liberation Serif", serif' font-weight="bold" fill="#111" text-anchor="middle" stroke="#111" stroke-width="0.12">VI</text>
<rect x="296.30" y="51.30" width="41.00" height="33.80" fill="#fff" stroke="#666" stroke-width="0.75" />
<path d="M309.5,78.8 L313,77 L317,75.5 L321,73.8 L319,76.5 L314.5,78.6 L311,79.6 Z" fill="none" stroke="#f05a5a" stroke-width="2.2" opacity="0.45" stroke-linejoin="round"/>
<path d="M309.5,78.8 L313,77 L317,75.5 L321,73.8 L319,76.5 L314.5,78.6 L311,79.6 Z" fill="#e3141c" stroke="none" stroke-width="1" opacity="1"/>
<path d="M304,80.5 L308,79 L310,80 L306,81.2 Z" fill="#f09090" stroke="none" stroke-width="1" opacity="0.6"/>
<line x1="312.50" y1="51.30" x2="312.50" y2="85.10" stroke="#555" stroke-width="0.7" />
<line x1="296.30" y1="72.50" x2="337.30" y2="72.50" stroke="#555" stroke-width="0.7" />
<text x="304.40" y="58.30" font-size="4.07" font-family='"Liberation Serif", serif' font-weight="bold" fill="#111" textLength="20.90" lengthAdjust="spacingAndGlyphs" stroke="#111" stroke-width="0.14">Ube9-siRNA</text>
<text x="304.40" y="63.00" font-size="3.23" font-family='"Liberation Serif", serif' font-weight="bold" fill="#111" textLength="6.20" lengthAdjust="spacingAndGlyphs" stroke="#111" stroke-width="0.14">+RA</text>
<text x="314.20" y="83.40" font-size="6.48" font-family='"Liberation Serif", serif' font-weight="bold" fill="#000" textLength="17.30" lengthAdjust="spacingAndGlyphs" stroke="#000" stroke-width="0.12">33.4%</text>
<line x1="296.30" y1="85.10" x2="296.30" y2="86.10" stroke="#666" stroke-width="0.4" />
<text x="296.30" y="88.40" font-size="2.50" font-family='"Liberation Serif", serif' font-weight="normal" fill="#666" text-anchor="middle">10</text>
<line x1="306.55" y1="85.10" x2="306.55" y2="86.10" stroke="#666" stroke-width="0.4" />
<text x="306.55" y="88.40" font-size="2.50" font-family='"Liberation Serif", serif' font-weight="normal" fill="#666" text-anchor="middle">10</text>
<line x1="316.80" y1="85.10" x2="316.80" y2="86.10" stroke="#666" stroke-width="0.4" />
<text x="316.80" y="88.40" font-size="2.50" font-family='"Liberation Serif", serif' font-weight="normal" fill="#666" text-anchor="middle">10</text>
<line x1="327.05" y1="85.10" x2="327.05" y2="86.10" stroke="#666" stroke-width="0.4" />
<text x="327.05" y="88.40" font-size="2.50" font-family='"Liberation Serif", serif' font-weight="normal" fill="#666" text-anchor="middle">10</text>
<line x1="337.30" y1="85.10" x2="337.30" y2="86.10" stroke="#666" stroke-width="0.4" />
<text x="337.30" y="88.40" font-size="2.50" font-family='"Liberation Serif", serif' font-weight="normal" fill="#666" text-anchor="middle">10</text>
<line x1="295.30" y1="76.65" x2="296.30" y2="76.65" stroke="#666" stroke-width="0.5" />
<line x1="295.30" y1="68.20" x2="296.30" y2="68.20" stroke="#666" stroke-width="0.5" />
<line x1="295.30" y1="59.75" x2="296.30" y2="59.75" stroke="#666" stroke-width="0.5" />
<line x1="230.50" y1="94.60" x2="306.80" y2="94.60" stroke="#111" stroke-width="1.4" />
<text x="256.00" y="100.00" font-size="6.59" font-family='"Liberation Serif", serif' font-weight="bold" fill="#111" textLength="33.50" lengthAdjust="spacingAndGlyphs" stroke="#111" stroke-width="0.12">CD15 FITC</text>
<text x="427.70" y="7.70" font-size="7.71" font-family='"Liberation Serif", serif' font-weight="bold" fill="#111" textLength="39.30" lengthAdjust="spacingAndGlyphs" stroke="#111" stroke-width="0.12">CD34+ cells</text>
<text x="390.80" y="76.35" font-size="3.80" font-family='"Liberation Serif", serif' font-weight="normal" fill="#808080" text-anchor="end">0</text>
<line x1="391.20" y1="75.10" x2="392.40" y2="75.10" stroke="#bbb" stroke-width="0.5" />
<line x1="392.40" y1="64.20" x2="518.00" y2="64.20" stroke="#ececec" stroke-width="0.6" />
<text x="390.80" y="65.45" font-size="3.80" font-family='"Liberation Serif", serif' font-weight="normal" fill="#808080" text-anchor="end">5</text>
<line x1="391.20" y1="64.20" x2="392.40" y2="64.20" stroke="#bbb" stroke-width="0.5" />
<line x1="392.40" y1="53.30" x2="518.00" y2="53.30" stroke="#ececec" stroke-width="0.6" />
<text x="390.80" y="54.55" font-size="3.80" font-family='"Liberation Serif", serif' font-weight="normal" fill="#808080" text-anchor="end">10</text>
<line x1="391.20" y1="53.30" x2="392.40" y2="53.30" stroke="#bbb" stroke-width="0.5" />
<line x1="392.40" y1="42.40" x2="518.00" y2="42.40" stroke="#ececec" stroke-width="0.6" />
<text x="390.80" y="43.65" font-size="3.80" font-family='"Liberation Serif", serif' font-weight="normal" fill="#808080" text-anchor="end">15</text>
<line x1="391.20" y1="42.40" x2="392.40" y2="42.40" stroke="#bbb" stroke-width="0.5" />
<line x1="392.40" y1="31.50" x2="518.00" y2="31.50" stroke="#ececec" stroke-width="0.6" />
<text x="390.80" y="32.75" font-size="3.80" font-family='"Liberation Serif", serif' font-weight="normal" fill="#808080" text-anchor="end">20</text>
<line x1="391.20" y1="31.50" x2="392.40" y2="31.50" stroke="#bbb" stroke-width="0.5" />
<line x1="392.40" y1="20.60" x2="518.00" y2="20.60" stroke="#ececec" stroke-width="0.6" />
<text x="390.80" y="21.85" font-size="3.80" font-family='"Liberation Serif", serif' font-weight="normal" fill="#808080" text-anchor="end">25</text>
<line x1="391.20" y1="20.60" x2="392.40" y2="20.60" stroke="#bbb" stroke-width="0.5" />
<text x="390.80" y="10.95" font-size="3.80" font-family='"Liberation Serif", serif' font-weight="normal" fill="#808080" text-anchor="end">30</text>
<line x1="391.20" y1="9.70" x2="392.40" y2="9.70" stroke="#bbb" stroke-width="0.5" />
<rect x="392.40" y="9.70" width="125.60" height="65.40" fill="none" stroke="#d8d8d8" stroke-width="0.7" />
<line x1="392.40" y1="75.10" x2="518.00" y2="75.10" stroke="#c0c0c0" stroke-width="0.8" />
<rect x="399.15" y="57.88" width="8.50" height="17.22" fill="#8d8d8d" stroke="#777" stroke-width="0.5" />
<line x1="403.40" y1="55.92" x2="403.40" y2="59.84" stroke="#555" stroke-width="0.5" />
<line x1="402.20" y1="55.92" x2="404.60" y2="55.92" stroke="#555" stroke-width="0.5" />
<line x1="402.20" y1="59.84" x2="404.60" y2="59.84" stroke="#555" stroke-width="0.5" />
<rect x="419.95" y="58.97" width="8.50" height="16.13" fill="#8d8d8d" stroke="#777" stroke-width="0.5" />
<line x1="424.20" y1="57.66" x2="424.20" y2="60.28" stroke="#555" stroke-width="0.5" />
<line x1="423.00" y1="57.66" x2="425.40" y2="57.66" stroke="#555" stroke-width="0.5" />
<line x1="423.00" y1="60.28" x2="425.40" y2="60.28" stroke="#555" stroke-width="0.5" />
<rect x="440.85" y="32.15" width="8.50" height="42.95" fill="#8d8d8d" stroke="#777" stroke-width="0.5" />
<line x1="445.10" y1="30.41" x2="445.10" y2="33.90" stroke="#555" stroke-width="0.5" />
<line x1="443.90" y1="30.41" x2="446.30" y2="30.41" stroke="#555" stroke-width="0.5" />
<line x1="443.90" y1="33.90" x2="446.30" y2="33.90" stroke="#555" stroke-width="0.5" />
<rect x="461.65" y="55.70" width="8.50" height="19.40" fill="#8d8d8d" stroke="#777" stroke-width="0.5" />
<line x1="465.90" y1="54.17" x2="465.90" y2="57.22" stroke="#555" stroke-width="0.5" />
<line x1="464.70" y1="54.17" x2="467.10" y2="54.17" stroke="#555" stroke-width="0.5" />
<line x1="464.70" y1="57.22" x2="467.10" y2="57.22" stroke="#555" stroke-width="0.5" />
<rect x="482.05" y="32.15" width="8.50" height="42.95" fill="#8d8d8d" stroke="#777" stroke-width="0.5" />
<line x1="486.30" y1="30.41" x2="486.30" y2="33.90" stroke="#555" stroke-width="0.5" />
<line x1="485.10" y1="30.41" x2="487.50" y2="30.41" stroke="#555" stroke-width="0.5" />
<line x1="485.10" y1="33.90" x2="487.50" y2="33.90" stroke="#555" stroke-width="0.5" />
<rect x="503.15" y="19.29" width="8.50" height="55.81" fill="#8d8d8d" stroke="#777" stroke-width="0.5" />
<line x1="507.40" y1="16.68" x2="507.40" y2="21.91" stroke="#555" stroke-width="0.5" />
<line x1="506.20" y1="16.68" x2="508.60" y2="16.68" stroke="#555" stroke-width="0.5" />
<line x1="506.20" y1="21.91" x2="508.60" y2="21.91" stroke="#555" stroke-width="0.5" />
<text x="394.50" y="83.50" font-size="7.50" font-family='"Liberation Serif", serif' font-weight="bold" fill="#2a2a2a" text-anchor="end" textLength="41.20" lengthAdjust="spacingAndGlyphs" stroke="#2a2a2a" stroke-width="0.08">Ube9-siRNA</text>
<line x1="402.44" y1="80.60" x2="404.36" y2="80.60" stroke="#777" stroke-width="0.85" />
<line x1="423.24" y1="80.60" x2="425.16" y2="80.60" stroke="#777" stroke-width="0.85" />
<line x1="444.14" y1="80.60" x2="446.06" y2="80.60" stroke="#777" stroke-width="0.85" />
<line x1="464.30" y1="80.60" x2="467.50" y2="80.60" stroke="#777" stroke-width="0.85" />
<line x1="465.90" y1="79.00" x2="465.90" y2="82.20" stroke="#777" stroke-width="0.85" />
<line x1="484.70" y1="80.60" x2="487.90" y2="80.60" stroke="#777" stroke-width="0.85" />
<line x1="486.30" y1="79.00" x2="486.30" y2="82.20" stroke="#777" stroke-width="0.85" />
<line x1="505.80" y1="80.60" x2="509.00" y2="80.60" stroke="#777" stroke-width="0.85" />
<line x1="507.40" y1="79.00" x2="507.40" y2="82.20" stroke="#777" stroke-width="0.85" />
<text x="394.50" y="92.50" font-size="7.50" font-family='"Liberation Serif", serif' font-weight="bold" fill="#2a2a2a" text-anchor="end" textLength="35.40" lengthAdjust="spacingAndGlyphs" stroke="#2a2a2a" stroke-width="0.08">Ctr.siRNA</text>
<line x1="401.80" y1="89.40" x2="405.00" y2="89.40" stroke="#777" stroke-width="0.85" />
<line x1="403.40" y1="87.80" x2="403.40" y2="91.00" stroke="#777" stroke-width="0.85" />
<line x1="422.60" y1="89.40" x2="425.80" y2="89.40" stroke="#777" stroke-width="0.85" />
<line x1="424.20" y1="87.80" x2="424.20" y2="91.00" stroke="#777" stroke-width="0.85" />
<line x1="443.50" y1="89.40" x2="446.70" y2="89.40" stroke="#777" stroke-width="0.85" />
<line x1="445.10" y1="87.80" x2="445.10" y2="91.00" stroke="#777" stroke-width="0.85" />
<line x1="464.94" y1="89.40" x2="466.86" y2="89.40" stroke="#777" stroke-width="0.85" />
<line x1="485.34" y1="89.40" x2="487.26" y2="89.40" stroke="#777" stroke-width="0.85" />
<line x1="506.44" y1="89.40" x2="508.36" y2="89.40" stroke="#777" stroke-width="0.85" />
<text x="394.50" y="100.90" font-size="7.50" font-family='"Liberation Serif", serif' font-weight="bold" fill="#2a2a2a" text-anchor="end" textLength="23.00" lengthAdjust="spacingAndGlyphs" stroke="#2a2a2a" stroke-width="0.08">G-CSF</text>
<line x1="402.44" y1="98.80" x2="404.36" y2="98.80" stroke="#777" stroke-width="0.85" />
<line x1="422.60" y1="98.80" x2="425.80" y2="98.80" stroke="#777" stroke-width="0.85" />
<line x1="424.20" y1="97.20" x2="424.20" y2="100.40" stroke="#777" stroke-width="0.85" />
<line x1="443.50" y1="98.80" x2="446.70" y2="98.80" stroke="#777" stroke-width="0.85" />
<line x1="445.10" y1="97.20" x2="445.10" y2="100.40" stroke="#777" stroke-width="0.85" />
<line x1="464.94" y1="98.80" x2="466.86" y2="98.80" stroke="#777" stroke-width="0.85" />
<line x1="484.70" y1="98.80" x2="487.90" y2="98.80" stroke="#777" stroke-width="0.85" />
<line x1="486.30" y1="97.20" x2="486.30" y2="100.40" stroke="#777" stroke-width="0.85" />
<line x1="505.80" y1="98.80" x2="509.00" y2="98.80" stroke="#777" stroke-width="0.85" />
<line x1="507.40" y1="97.20" x2="507.40" y2="100.40" stroke="#777" stroke-width="0.85" />
<text x="394.50" y="109.10" font-size="7.50" font-family='"Liberation Serif", serif' font-weight="bold" fill="#2a2a2a" text-anchor="end" textLength="40.00" lengthAdjust="spacingAndGlyphs" stroke="#2a2a2a" stroke-width="0.08">C/EBPαp30</text>
<line x1="402.44" y1="107.90" x2="404.36" y2="107.90" stroke="#777" stroke-width="0.85" />
<line x1="422.60" y1="107.90" x2="425.80" y2="107.90" stroke="#777" stroke-width="0.85" />
<line x1="424.20" y1="106.30" x2="424.20" y2="109.50" stroke="#777" stroke-width="0.85" />
<line x1="444.14" y1="107.90" x2="446.06" y2="107.90" stroke="#777" stroke-width="0.85" />
<line x1="464.94" y1="107.90" x2="466.86" y2="107.90" stroke="#777" stroke-width="0.85" />
<line x1="484.70" y1="107.90" x2="487.90" y2="107.90" stroke="#777" stroke-width="0.85" />
<line x1="486.30" y1="106.30" x2="486.30" y2="109.50" stroke="#777" stroke-width="0.85" />
<line x1="506.44" y1="107.90" x2="508.36" y2="107.90" stroke="#777" stroke-width="0.85" />
<text x="383.00" y="45.40" font-size="7.85" font-family='"Liberation Serif", serif' font-weight="bold" fill="#2a2a2a" text-anchor="middle" textLength="29.00" lengthAdjust="spacingAndGlyphs" transform="rotate(-90 383.00 45.40)" stroke="#2a2a2a" stroke-width="0.05">CD15 %</text>
<text x="401.40" y="28.50" font-size="7.81" font-family='"Liberation Serif", serif' font-weight="bold" fill="#111" textLength="14.00" lengthAdjust="spacingAndGlyphs" stroke="#111" stroke-width="0.08">N=3</text>
<line x1="425.30" y1="24.90" x2="425.30" y2="56.00" stroke="#888" stroke-width="0.6" />
<line x1="425.30" y1="24.90" x2="484.80" y2="24.90" stroke="#888" stroke-width="0.6" />
<line x1="427.90" y1="29.50" x2="427.90" y2="56.00" stroke="#aaa" stroke-width="0.6" />
<path d="M440.31,27.00 L443.30,27.00 L441.80,29.30 Z" fill="#222" stroke="none" stroke-width="1" />
<path d="M483.11,27.00 L486.10,27.00 L484.60,29.30 Z" fill="#222" stroke="none" stroke-width="1" />
<text x="451.50" y="31.20" font-size="7.61" font-family='"Liberation Serif", serif' font-weight="bold" fill="#111" textLength="15.00" lengthAdjust="spacingAndGlyphs" stroke="#111" stroke-width="0.08">2.5X</text>
<text x="452.60" y="42.70" font-size="7.66" font-family='"Liberation Serif", serif' font-style="italic" font-weight="bold" fill="#1a1a1a" stroke="#1a1a1a" stroke-width="0.22" textLength="22.00" lengthAdjust="spacingAndGlyphs">P ≤ .03</text>
<text x="79.80" y="127.70" font-size="7.78" font-family='"Liberation Serif", serif' font-weight="bold" fill="#111" textLength="33.50" lengthAdjust="spacingAndGlyphs" stroke="#111" stroke-width="0.12">U937 cells</text>
<text x="41.50" y="196.42" font-size="3.40" font-family='"Liberation Serif", serif' font-weight="normal" fill="#808080" text-anchor="end">0</text>
<line x1="44.10" y1="195.30" x2="45.30" y2="195.30" stroke="#bbb" stroke-width="0.5" />
<line x1="45.30" y1="186.16" x2="160.40" y2="186.16" stroke="#ececec" stroke-width="0.6" />
<text x="41.50" y="187.28" font-size="3.40" font-family='"Liberation Serif", serif' font-weight="normal" fill="#808080" text-anchor="end">10</text>
<line x1="44.10" y1="186.16" x2="45.30" y2="186.16" stroke="#bbb" stroke-width="0.5" />
<line x1="45.30" y1="177.02" x2="160.40" y2="177.02" stroke="#ececec" stroke-width="0.6" />
<text x="41.50" y="178.14" font-size="3.40" font-family='"Liberation Serif", serif' font-weight="normal" fill="#808080" text-anchor="end">20</text>
<line x1="44.10" y1="177.02" x2="45.30" y2="177.02" stroke="#bbb" stroke-width="0.5" />
<line x1="45.30" y1="167.88" x2="160.40" y2="167.88" stroke="#ececec" stroke-width="0.6" />
<text x="41.50" y="169.00" font-size="3.40" font-family='"Liberation Serif", serif' font-weight="normal" fill="#808080" text-anchor="end">30</text>
<line x1="44.10" y1="167.88" x2="45.30" y2="167.88" stroke="#bbb" stroke-width="0.5" />
<line x1="45.30" y1="158.74" x2="160.40" y2="158.74" stroke="#ececec" stroke-width="0.6" />
<text x="41.50" y="159.86" font-size="3.40" font-family='"Liberation Serif", serif' font-weight="normal" fill="#808080" text-anchor="end">40</text>
<line x1="44.10" y1="158.74" x2="45.30" y2="158.74" stroke="#bbb" stroke-width="0.5" />
<line x1="45.30" y1="149.60" x2="160.40" y2="149.60" stroke="#ececec" stroke-width="0.6" />
<text x="41.50" y="150.72" font-size="3.40" font-family='"Liberation Serif", serif' font-weight="normal" fill="#808080" text-anchor="end">50</text>
<line x1="44.10" y1="149.60" x2="45.30" y2="149.60" stroke="#bbb" stroke-width="0.5" />
<line x1="45.30" y1="140.46" x2="160.40" y2="140.46" stroke="#ececec" stroke-width="0.6" />
<text x="41.50" y="141.58" font-size="3.40" font-family='"Liberation Serif", serif' font-weight="normal" fill="#808080" text-anchor="end">60</text>
<line x1="44.10" y1="140.46" x2="45.30" y2="140.46" stroke="#bbb" stroke-width="0.5" />
<text x="41.50" y="132.44" font-size="3.40" font-family='"Liberation Serif", serif' font-weight="normal" fill="#808080" text-anchor="end">70</text>
<line x1="44.10" y1="131.32" x2="45.30" y2="131.32" stroke="#bbb" stroke-width="0.5" />
<rect x="45.30" y="131.30" width="115.10" height="64.00" fill="none" stroke="#d8d8d8" stroke-width="0.7" />
<line x1="45.30" y1="195.30" x2="160.40" y2="195.30" stroke="#c0c0c0" stroke-width="0.8" />
<rect x="50.80" y="177.66" width="8.40" height="17.64" fill="#dcdcdc" stroke="#9a9a9a" stroke-width="0.5" />
<line x1="55.00" y1="176.75" x2="55.00" y2="178.57" stroke="#555" stroke-width="0.5" />
<line x1="53.80" y1="176.75" x2="56.20" y2="176.75" stroke="#555" stroke-width="0.5" />
<line x1="53.80" y1="178.57" x2="56.20" y2="178.57" stroke="#555" stroke-width="0.5" />
<rect x="69.80" y="178.57" width="8.40" height="16.73" fill="#dcdcdc" stroke="#9a9a9a" stroke-width="0.5" />
<line x1="74.00" y1="177.48" x2="74.00" y2="179.67" stroke="#555" stroke-width="0.5" />
<line x1="72.80" y1="177.48" x2="75.20" y2="177.48" stroke="#555" stroke-width="0.5" />
<line x1="72.80" y1="179.67" x2="75.20" y2="179.67" stroke="#555" stroke-width="0.5" />
<rect x="89.10" y="140.92" width="8.40" height="54.38" fill="#dcdcdc" stroke="#9a9a9a" stroke-width="0.5" />
<line x1="93.30" y1="139.27" x2="93.30" y2="142.56" stroke="#555" stroke-width="0.5" />
<line x1="92.10" y1="139.27" x2="94.50" y2="139.27" stroke="#555" stroke-width="0.5" />
<line x1="92.10" y1="142.56" x2="94.50" y2="142.56" stroke="#555" stroke-width="0.5" />
<rect x="108.30" y="177.66" width="8.40" height="17.64" fill="#dcdcdc" stroke="#9a9a9a" stroke-width="0.5" />
<line x1="112.50" y1="176.75" x2="112.50" y2="178.57" stroke="#555" stroke-width="0.5" />
<line x1="111.30" y1="176.75" x2="113.70" y2="176.75" stroke="#555" stroke-width="0.5" />
<line x1="111.30" y1="178.57" x2="113.70" y2="178.57" stroke="#555" stroke-width="0.5" />
<rect x="127.50" y="140.00" width="8.40" height="55.30" fill="#dcdcdc" stroke="#9a9a9a" stroke-width="0.5" />
<line x1="131.70" y1="138.63" x2="131.70" y2="141.37" stroke="#555" stroke-width="0.5" />
<line x1="130.50" y1="138.63" x2="132.90" y2="138.63" stroke="#555" stroke-width="0.5" />
<line x1="130.50" y1="141.37" x2="132.90" y2="141.37" stroke="#555" stroke-width="0.5" />
<rect x="146.40" y="137.72" width="8.40" height="57.58" fill="#dcdcdc" stroke="#9a9a9a" stroke-width="0.5" />
<line x1="150.60" y1="135.62" x2="150.60" y2="139.82" stroke="#555" stroke-width="0.5" />
<line x1="149.40" y1="135.62" x2="151.80" y2="135.62" stroke="#555" stroke-width="0.5" />
<line x1="149.40" y1="139.82" x2="151.80" y2="139.82" stroke="#555" stroke-width="0.5" />
<text x="44.10" y="204.70" font-size="7.50" font-family='"Liberation Serif", serif' font-weight="bold" fill="#2a2a2a" text-anchor="end" textLength="41.30" lengthAdjust="spacingAndGlyphs" stroke="#2a2a2a" stroke-width="0.08">Ube9-siRNA</text>
<line x1="54.04" y1="199.00" x2="55.96" y2="199.00" stroke="#777" stroke-width="0.85" />
<line x1="73.04" y1="199.00" x2="74.96" y2="199.00" stroke="#777" stroke-width="0.85" />
<line x1="92.34" y1="199.00" x2="94.26" y2="199.00" stroke="#777" stroke-width="0.85" />
<line x1="110.90" y1="199.00" x2="114.10" y2="199.00" stroke="#777" stroke-width="0.85" />
<line x1="112.50" y1="197.40" x2="112.50" y2="200.60" stroke="#777" stroke-width="0.85" />
<line x1="130.10" y1="199.00" x2="133.30" y2="199.00" stroke="#777" stroke-width="0.85" />
<line x1="131.70" y1="197.40" x2="131.70" y2="200.60" stroke="#777" stroke-width="0.85" />
<line x1="149.00" y1="199.00" x2="152.20" y2="199.00" stroke="#777" stroke-width="0.85" />
<line x1="150.60" y1="197.40" x2="150.60" y2="200.60" stroke="#777" stroke-width="0.85" />
<text x="44.10" y="213.20" font-size="7.50" font-family='"Liberation Serif", serif' font-weight="bold" fill="#2a2a2a" text-anchor="end" textLength="35.30" lengthAdjust="spacingAndGlyphs" stroke="#2a2a2a" stroke-width="0.08">Ctr.siRNA</text>
<line x1="53.40" y1="208.20" x2="56.60" y2="208.20" stroke="#777" stroke-width="0.85" />
<line x1="55.00" y1="206.60" x2="55.00" y2="209.80" stroke="#777" stroke-width="0.85" />
<line x1="72.40" y1="208.20" x2="75.60" y2="208.20" stroke="#777" stroke-width="0.85" />
<line x1="74.00" y1="206.60" x2="74.00" y2="209.80" stroke="#777" stroke-width="0.85" />
<line x1="91.70" y1="208.20" x2="94.90" y2="208.20" stroke="#777" stroke-width="0.85" />
<line x1="93.30" y1="206.60" x2="93.30" y2="209.80" stroke="#777" stroke-width="0.85" />
<line x1="111.54" y1="208.20" x2="113.46" y2="208.20" stroke="#777" stroke-width="0.85" />
<line x1="130.74" y1="208.20" x2="132.66" y2="208.20" stroke="#777" stroke-width="0.85" />
<line x1="149.64" y1="208.20" x2="151.56" y2="208.20" stroke="#777" stroke-width="0.85" />
<text x="44.10" y="222.10" font-size="7.50" font-family='"Liberation Serif", serif' font-weight="bold" fill="#2a2a2a" text-anchor="end" textLength="9.90" lengthAdjust="spacingAndGlyphs" stroke="#2a2a2a" stroke-width="0.08">RA</text>
<line x1="54.04" y1="218.10" x2="55.96" y2="218.10" stroke="#777" stroke-width="0.85" />
<line x1="72.40" y1="218.10" x2="75.60" y2="218.10" stroke="#777" stroke-width="0.85" />
<line x1="74.00" y1="216.50" x2="74.00" y2="219.70" stroke="#777" stroke-width="0.85" />
<line x1="91.70" y1="218.10" x2="94.90" y2="218.10" stroke="#777" stroke-width="0.85" />
<line x1="93.30" y1="216.50" x2="93.30" y2="219.70" stroke="#777" stroke-width="0.85" />
<line x1="111.54" y1="218.10" x2="113.46" y2="218.10" stroke="#777" stroke-width="0.85" />
<line x1="130.10" y1="218.10" x2="133.30" y2="218.10" stroke="#777" stroke-width="0.85" />
<line x1="131.70" y1="216.50" x2="131.70" y2="219.70" stroke="#777" stroke-width="0.85" />
<line x1="149.00" y1="218.10" x2="152.20" y2="218.10" stroke="#777" stroke-width="0.85" />
<line x1="150.60" y1="216.50" x2="150.60" y2="219.70" stroke="#777" stroke-width="0.85" />
<text x="44.10" y="229.10" font-size="7.50" font-family='"Liberation Serif", serif' font-weight="bold" fill="#2a2a2a" text-anchor="end" textLength="40.40" lengthAdjust="spacingAndGlyphs" stroke="#2a2a2a" stroke-width="0.08">C/EBPαp30</text>
<line x1="54.04" y1="227.50" x2="55.96" y2="227.50" stroke="#777" stroke-width="0.85" />
<line x1="72.40" y1="227.50" x2="75.60" y2="227.50" stroke="#777" stroke-width="0.85" />
<line x1="74.00" y1="225.90" x2="74.00" y2="229.10" stroke="#777" stroke-width="0.85" />
<line x1="92.34" y1="227.50" x2="94.26" y2="227.50" stroke="#777" stroke-width="0.85" />
<line x1="111.54" y1="227.50" x2="113.46" y2="227.50" stroke="#777" stroke-width="0.85" />
<line x1="130.10" y1="227.50" x2="133.30" y2="227.50" stroke="#777" stroke-width="0.85" />
<line x1="131.70" y1="225.90" x2="131.70" y2="229.10" stroke="#777" stroke-width="0.85" />
<line x1="149.64" y1="227.50" x2="151.56" y2="227.50" stroke="#777" stroke-width="0.85" />
<text x="37.00" y="161.00" font-size="7.85" font-family='"Liberation Serif", serif' font-weight="bold" fill="#2a2a2a" text-anchor="middle" textLength="29.00" lengthAdjust="spacingAndGlyphs" transform="rotate(-90 37.00 161.00)" stroke="#2a2a2a" stroke-width="0.05">CD15 %</text>
<text x="47.50" y="149.20" font-size="7.70" font-family='"Liberation Serif", serif' font-weight="bold" fill="#111" textLength="13.80" lengthAdjust="spacingAndGlyphs" stroke="#111" stroke-width="0.08">N=4</text>
<line x1="75.20" y1="134.60" x2="75.20" y2="173.40" stroke="#bdbdbd" stroke-width="1.6" />
<line x1="74.40" y1="134.60" x2="130.60" y2="134.60" stroke="#bdbdbd" stroke-width="1.6" />
<path d="M88.70,136.20 L91.70,136.20 L90.20,138.50 Z" fill="#222" stroke="none" stroke-width="1" />
<path d="M129.10,136.20 L132.09,136.20 L130.60,138.50 Z" fill="#222" stroke="none" stroke-width="1" />
<text x="100.60" y="149.20" font-size="7.53" font-family='"Liberation Serif", serif' font-weight="bold" fill="#111" textLength="9.20" lengthAdjust="spacingAndGlyphs" stroke="#111" stroke-width="0.08">3X</text>
<text x="99.90" y="159.10" font-size="7.87" font-family='"Liberation Serif", serif' font-style="italic" font-weight="bold" fill="#1a1a1a" stroke="#1a1a1a" stroke-width="0.22" textLength="22.60" lengthAdjust="spacingAndGlyphs">P ≤ .02</text>
<text x="199.40" y="203.62" font-size="4.30" font-family='"Liberation Serif", serif' font-weight="normal" fill="#808080" text-anchor="end">0</text>
<line x1="203.60" y1="202.20" x2="204.80" y2="202.20" stroke="#bbb" stroke-width="0.5" />
<line x1="204.80" y1="189.40" x2="328.70" y2="189.40" stroke="#ececec" stroke-width="0.6" />
<text x="199.40" y="190.82" font-size="4.30" font-family='"Liberation Serif", serif' font-weight="normal" fill="#808080" text-anchor="end">5</text>
<line x1="203.60" y1="189.40" x2="204.80" y2="189.40" stroke="#bbb" stroke-width="0.5" />
<line x1="204.80" y1="176.60" x2="328.70" y2="176.60" stroke="#ececec" stroke-width="0.6" />
<text x="199.40" y="178.02" font-size="4.30" font-family='"Liberation Serif", serif' font-weight="normal" fill="#808080" text-anchor="end">10</text>
<line x1="203.60" y1="176.60" x2="204.80" y2="176.60" stroke="#bbb" stroke-width="0.5" />
<line x1="204.80" y1="163.80" x2="328.70" y2="163.80" stroke="#ececec" stroke-width="0.6" />
<text x="199.40" y="165.22" font-size="4.30" font-family='"Liberation Serif", serif' font-weight="normal" fill="#808080" text-anchor="end">15</text>
<line x1="203.60" y1="163.80" x2="204.80" y2="163.80" stroke="#bbb" stroke-width="0.5" />
<line x1="204.80" y1="151.00" x2="328.70" y2="151.00" stroke="#ececec" stroke-width="0.6" />
<text x="199.40" y="152.42" font-size="4.30" font-family='"Liberation Serif", serif' font-weight="normal" fill="#808080" text-anchor="end">20</text>
<line x1="203.60" y1="151.00" x2="204.80" y2="151.00" stroke="#bbb" stroke-width="0.5" />
<line x1="204.80" y1="138.20" x2="328.70" y2="138.20" stroke="#ececec" stroke-width="0.6" />
<text x="199.40" y="139.62" font-size="4.30" font-family='"Liberation Serif", serif' font-weight="normal" fill="#808080" text-anchor="end">25</text>
<line x1="203.60" y1="138.20" x2="204.80" y2="138.20" stroke="#bbb" stroke-width="0.5" />
<text x="199.40" y="126.82" font-size="4.30" font-family='"Liberation Serif", serif' font-weight="normal" fill="#808080" text-anchor="end">30</text>
<line x1="203.60" y1="125.40" x2="204.80" y2="125.40" stroke="#bbb" stroke-width="0.5" />
<rect x="204.80" y="125.20" width="123.90" height="77.00" fill="none" stroke="#d8d8d8" stroke-width="0.7" />
<line x1="204.80" y1="202.20" x2="328.70" y2="202.20" stroke="#c0c0c0" stroke-width="0.8" />
<rect x="214.15" y="200.92" width="12.70" height="1.28" fill="#8d8d8d" stroke="#777" stroke-width="0.5" />
<line x1="220.50" y1="200.41" x2="220.50" y2="201.43" stroke="#555" stroke-width="0.5" />
<line x1="219.30" y1="200.41" x2="221.70" y2="200.41" stroke="#555" stroke-width="0.5" />
<line x1="219.30" y1="201.43" x2="221.70" y2="201.43" stroke="#555" stroke-width="0.5" />
<rect x="244.95" y="148.70" width="12.70" height="53.50" fill="#8d8d8d" stroke="#777" stroke-width="0.5" />
<line x1="251.30" y1="138.20" x2="251.30" y2="159.19" stroke="#555" stroke-width="0.5" />
<line x1="250.10" y1="138.20" x2="252.50" y2="138.20" stroke="#555" stroke-width="0.5" />
<line x1="250.10" y1="159.19" x2="252.50" y2="159.19" stroke="#555" stroke-width="0.5" />
<rect x="276.55" y="180.31" width="12.70" height="21.89" fill="#8d8d8d" stroke="#777" stroke-width="0.5" />
<line x1="282.90" y1="175.45" x2="282.90" y2="185.18" stroke="#555" stroke-width="0.5" />
<line x1="281.70" y1="175.45" x2="284.10" y2="175.45" stroke="#555" stroke-width="0.5" />
<line x1="281.70" y1="185.18" x2="284.10" y2="185.18" stroke="#555" stroke-width="0.5" />
<rect x="307.15" y="197.85" width="12.70" height="4.35" fill="#8d8d8d" stroke="#777" stroke-width="0.5" />
<line x1="313.50" y1="195.54" x2="313.50" y2="200.15" stroke="#555" stroke-width="0.5" />
<line x1="312.30" y1="195.54" x2="314.70" y2="195.54" stroke="#555" stroke-width="0.5" />
<line x1="312.30" y1="200.15" x2="314.70" y2="200.15" stroke="#555" stroke-width="0.5" />
<text x="209.60" y="213.80" font-size="7.50" font-family='"Liberation Serif", serif' font-weight="bold" fill="#2a2a2a" text-anchor="end" textLength="31.80" lengthAdjust="spacingAndGlyphs" stroke="#2a2a2a" stroke-width="0.08">HA-Ube9</text>
<line x1="219.54" y1="210.40" x2="221.46" y2="210.40" stroke="#777" stroke-width="0.85" />
<line x1="250.34" y1="210.40" x2="252.26" y2="210.40" stroke="#777" stroke-width="0.85" />
<line x1="281.30" y1="210.40" x2="284.50" y2="210.40" stroke="#777" stroke-width="0.85" />
<line x1="282.90" y1="208.80" x2="282.90" y2="212.00" stroke="#777" stroke-width="0.85" />
<line x1="311.90" y1="210.40" x2="315.10" y2="210.40" stroke="#777" stroke-width="0.85" />
<line x1="313.50" y1="208.80" x2="313.50" y2="212.00" stroke="#777" stroke-width="0.85" />
<text x="209.60" y="222.10" font-size="7.50" font-family='"Liberation Serif", serif' font-weight="bold" fill="#2a2a2a" text-anchor="end" textLength="10.40" lengthAdjust="spacingAndGlyphs" stroke="#2a2a2a" stroke-width="0.08">RA</text>
<line x1="219.54" y1="218.70" x2="221.46" y2="218.70" stroke="#777" stroke-width="0.85" />
<line x1="249.70" y1="218.70" x2="252.90" y2="218.70" stroke="#777" stroke-width="0.85" />
<line x1="251.30" y1="217.10" x2="251.30" y2="220.30" stroke="#777" stroke-width="0.85" />
<line x1="281.30" y1="218.70" x2="284.50" y2="218.70" stroke="#777" stroke-width="0.85" />
<line x1="282.90" y1="217.10" x2="282.90" y2="220.30" stroke="#777" stroke-width="0.85" />
<line x1="312.54" y1="218.70" x2="314.46" y2="218.70" stroke="#777" stroke-width="0.85" />
<text x="190.00" y="166.00" font-size="7.51" font-family='"Liberation Serif", serif' font-weight="bold" fill="#2a2a2a" text-anchor="middle" textLength="65.00" lengthAdjust="spacingAndGlyphs" transform="rotate(-90 190.00 166.00)" stroke="#2a2a2a" stroke-width="0.05">% CD15 Expression</text>
<text x="313.00" y="134.20" font-size="7.25" font-family='"Liberation Serif", serif' font-weight="bold" fill="#111" textLength="13.00" lengthAdjust="spacingAndGlyphs" stroke="#111" stroke-width="0.08">N=4</text>
<line x1="255.10" y1="145.50" x2="287.70" y2="145.50" stroke="#777" stroke-width="0.6" />
<line x1="255.10" y1="145.50" x2="255.10" y2="149.00" stroke="#777" stroke-width="0.6" />
<path d="M253.60,149.70 L256.59,149.70 L255.10,152.00 Z" fill="#222" stroke="none" stroke-width="1" />
<line x1="287.70" y1="145.50" x2="287.70" y2="176.00" stroke="#777" stroke-width="0.6" />
<path d="M286.20,176.70 L289.19,176.70 L287.70,179.00 Z" fill="#222" stroke="none" stroke-width="1" />
<text x="268.40" y="158.80" font-size="8.51" font-family='"Liberation Serif", serif' font-weight="bold" fill="#111" textLength="10.40" lengthAdjust="spacingAndGlyphs" stroke="#111" stroke-width="0.08">2X</text>
<text x="260.40" y="170.30" font-size="8.09" font-family='"Liberation Serif", serif' font-style="italic" font-weight="bold" fill="#1a1a1a" stroke="#1a1a1a" stroke-width="0.22" textLength="27.30" lengthAdjust="spacingAndGlyphs">P ≤ .025</text>
<text x="395.40" y="130.80" font-size="7.95" font-family='"Liberation Serif", serif' font-weight="bold" fill="#111" textLength="78.10" lengthAdjust="spacingAndGlyphs" stroke="#111" stroke-width="0.12">GCSFR in CD34+ cells</text>
<text x="391.60" y="196.86" font-size="3.20" font-family='"Liberation Serif", serif' font-weight="normal" fill="#808080" text-anchor="end">0</text>
<line x1="393.60" y1="195.80" x2="394.80" y2="195.80" stroke="#bbb" stroke-width="0.5" />
<line x1="394.80" y1="188.45" x2="516.80" y2="188.45" stroke="#ececec" stroke-width="0.6" />
<text x="391.60" y="189.51" font-size="3.20" font-family='"Liberation Serif", serif' font-weight="normal" fill="#808080" text-anchor="end">0.5</text>
<line x1="393.60" y1="188.45" x2="394.80" y2="188.45" stroke="#bbb" stroke-width="0.5" />
<line x1="394.80" y1="181.10" x2="516.80" y2="181.10" stroke="#ececec" stroke-width="0.6" />
<text x="391.60" y="182.16" font-size="3.20" font-family='"Liberation Serif", serif' font-weight="normal" fill="#808080" text-anchor="end">1</text>
<line x1="393.60" y1="181.10" x2="394.80" y2="181.10" stroke="#bbb" stroke-width="0.5" />
<line x1="394.80" y1="173.75" x2="516.80" y2="173.75" stroke="#ececec" stroke-width="0.6" />
<text x="391.60" y="174.81" font-size="3.20" font-family='"Liberation Serif", serif' font-weight="normal" fill="#808080" text-anchor="end">1.5</text>
<line x1="393.60" y1="173.75" x2="394.80" y2="173.75" stroke="#bbb" stroke-width="0.5" />
<line x1="394.80" y1="166.40" x2="516.80" y2="166.40" stroke="#ececec" stroke-width="0.6" />
<text x="391.60" y="167.46" font-size="3.20" font-family='"Liberation Serif", serif' font-weight="normal" fill="#808080" text-anchor="end">2</text>
<line x1="393.60" y1="166.40" x2="394.80" y2="166.40" stroke="#bbb" stroke-width="0.5" />
<line x1="394.80" y1="159.05" x2="516.80" y2="159.05" stroke="#ececec" stroke-width="0.6" />
<text x="391.60" y="160.11" font-size="3.20" font-family='"Liberation Serif", serif' font-weight="normal" fill="#808080" text-anchor="end">2.5</text>
<line x1="393.60" y1="159.05" x2="394.80" y2="159.05" stroke="#bbb" stroke-width="0.5" />
<line x1="394.80" y1="151.70" x2="516.80" y2="151.70" stroke="#ececec" stroke-width="0.6" />
<text x="391.60" y="152.76" font-size="3.20" font-family='"Liberation Serif", serif' font-weight="normal" fill="#808080" text-anchor="end">3</text>
<line x1="393.60" y1="151.70" x2="394.80" y2="151.70" stroke="#bbb" stroke-width="0.5" />
<line x1="394.80" y1="144.35" x2="516.80" y2="144.35" stroke="#ececec" stroke-width="0.6" />
<text x="391.60" y="145.41" font-size="3.20" font-family='"Liberation Serif", serif' font-weight="normal" fill="#808080" text-anchor="end">3.5</text>
<line x1="393.60" y1="144.35" x2="394.80" y2="144.35" stroke="#bbb" stroke-width="0.5" />
<text x="391.60" y="138.06" font-size="3.20" font-family='"Liberation Serif", serif' font-weight="normal" fill="#808080" text-anchor="end">4</text>
<line x1="393.60" y1="137.00" x2="394.80" y2="137.00" stroke="#bbb" stroke-width="0.5" />
<rect x="394.80" y="137.00" width="122.00" height="58.80" fill="none" stroke="#d8d8d8" stroke-width="0.7" />
<line x1="394.80" y1="195.80" x2="516.80" y2="195.80" stroke="#c0c0c0" stroke-width="0.8" />
<rect x="400.50" y="181.25" width="8.40" height="14.55" fill="#8d8d8d" stroke="#777" stroke-width="0.5" />
<rect x="421.30" y="180.66" width="8.40" height="15.14" fill="#8d8d8d" stroke="#777" stroke-width="0.5" />
<line x1="425.50" y1="180.22" x2="425.50" y2="181.10" stroke="#555" stroke-width="0.5" />
<line x1="424.30" y1="180.22" x2="426.70" y2="180.22" stroke="#555" stroke-width="0.5" />
<line x1="424.30" y1="181.10" x2="426.70" y2="181.10" stroke="#555" stroke-width="0.5" />
<rect x="441.50" y="146.41" width="8.40" height="49.39" fill="#8d8d8d" stroke="#777" stroke-width="0.5" />
<line x1="445.70" y1="145.23" x2="445.70" y2="147.58" stroke="#555" stroke-width="0.5" />
<line x1="444.50" y1="145.23" x2="446.90" y2="145.23" stroke="#555" stroke-width="0.5" />
<line x1="444.50" y1="147.58" x2="446.90" y2="147.58" stroke="#555" stroke-width="0.5" />
<rect x="462.30" y="181.25" width="8.40" height="14.55" fill="#8d8d8d" stroke="#777" stroke-width="0.5" />
<rect x="482.70" y="161.84" width="8.40" height="33.96" fill="#8d8d8d" stroke="#777" stroke-width="0.5" />
<line x1="486.90" y1="155.52" x2="486.90" y2="168.16" stroke="#555" stroke-width="0.5" />
<line x1="485.70" y1="155.52" x2="488.10" y2="155.52" stroke="#555" stroke-width="0.5" />
<line x1="485.70" y1="168.16" x2="488.10" y2="168.16" stroke="#555" stroke-width="0.5" />
<rect x="503.30" y="145.97" width="8.40" height="49.83" fill="#8d8d8d" stroke="#777" stroke-width="0.5" />
<line x1="507.50" y1="141.41" x2="507.50" y2="150.52" stroke="#555" stroke-width="0.5" />
<line x1="506.30" y1="141.41" x2="508.70" y2="141.41" stroke="#555" stroke-width="0.5" />
<line x1="506.30" y1="150.52" x2="508.70" y2="150.52" stroke="#555" stroke-width="0.5" />
<text x="393.60" y="205.50" font-size="7.50" font-family='"Liberation Serif", serif' font-weight="bold" fill="#2a2a2a" text-anchor="end" textLength="36.00" lengthAdjust="spacingAndGlyphs" stroke="#2a2a2a" stroke-width="0.08">Ctr.siRNA</text>
<line x1="403.10" y1="201.50" x2="406.30" y2="201.50" stroke="#777" stroke-width="0.85" />
<line x1="404.70" y1="199.90" x2="404.70" y2="203.10" stroke="#777" stroke-width="0.85" />
<line x1="423.90" y1="201.50" x2="427.10" y2="201.50" stroke="#777" stroke-width="0.85" />
<line x1="425.50" y1="199.90" x2="425.50" y2="203.10" stroke="#777" stroke-width="0.85" />
<line x1="444.10" y1="201.50" x2="447.30" y2="201.50" stroke="#777" stroke-width="0.85" />
<line x1="445.70" y1="199.90" x2="445.70" y2="203.10" stroke="#777" stroke-width="0.85" />
<line x1="465.54" y1="201.50" x2="467.46" y2="201.50" stroke="#777" stroke-width="0.85" />
<line x1="485.94" y1="201.50" x2="487.86" y2="201.50" stroke="#777" stroke-width="0.85" />
<line x1="506.54" y1="201.50" x2="508.46" y2="201.50" stroke="#777" stroke-width="0.85" />
<text x="393.60" y="213.90" font-size="7.50" font-family='"Liberation Serif", serif' font-weight="bold" fill="#2a2a2a" text-anchor="end" textLength="39.60" lengthAdjust="spacingAndGlyphs" stroke="#2a2a2a" stroke-width="0.08">Ube9siRNA</text>
<line x1="403.74" y1="212.00" x2="405.66" y2="212.00" stroke="#777" stroke-width="0.85" />
<line x1="424.54" y1="212.00" x2="426.46" y2="212.00" stroke="#777" stroke-width="0.85" />
<line x1="444.74" y1="212.00" x2="446.66" y2="212.00" stroke="#777" stroke-width="0.85" />
<line x1="464.90" y1="212.00" x2="468.10" y2="212.00" stroke="#777" stroke-width="0.85" />
<line x1="466.50" y1="210.40" x2="466.50" y2="213.60" stroke="#777" stroke-width="0.85" />
<line x1="485.30" y1="212.00" x2="488.50" y2="212.00" stroke="#777" stroke-width="0.85" />
<line x1="486.90" y1="210.40" x2="486.90" y2="213.60" stroke="#777" stroke-width="0.85" />
<line x1="505.90" y1="212.00" x2="509.10" y2="212.00" stroke="#777" stroke-width="0.85" />
<line x1="507.50" y1="210.40" x2="507.50" y2="213.60" stroke="#777" stroke-width="0.85" />
<text x="393.60" y="221.60" font-size="7.50" font-family='"Liberation Serif", serif' font-weight="bold" fill="#2a2a2a" text-anchor="end" textLength="40.90" lengthAdjust="spacingAndGlyphs" stroke="#2a2a2a" stroke-width="0.08">C/EBPαp30</text>
<line x1="403.74" y1="221.30" x2="405.66" y2="221.30" stroke="#777" stroke-width="0.85" />
<line x1="423.90" y1="221.30" x2="427.10" y2="221.30" stroke="#777" stroke-width="0.85" />
<line x1="425.50" y1="219.70" x2="425.50" y2="222.90" stroke="#777" stroke-width="0.85" />
<line x1="444.74" y1="221.30" x2="446.66" y2="221.30" stroke="#777" stroke-width="0.85" />
<line x1="465.54" y1="221.30" x2="467.46" y2="221.30" stroke="#777" stroke-width="0.85" />
<line x1="485.30" y1="221.30" x2="488.50" y2="221.30" stroke="#777" stroke-width="0.85" />
<line x1="486.90" y1="219.70" x2="486.90" y2="222.90" stroke="#777" stroke-width="0.85" />
<line x1="506.54" y1="221.30" x2="508.46" y2="221.30" stroke="#777" stroke-width="0.85" />
<text x="393.60" y="231.20" font-size="7.50" font-family='"Liberation Serif", serif' font-weight="bold" fill="#2a2a2a" text-anchor="end" textLength="21.10" lengthAdjust="spacingAndGlyphs" stroke="#2a2a2a" stroke-width="0.08">GCSF</text>
<line x1="403.74" y1="230.80" x2="405.66" y2="230.80" stroke="#777" stroke-width="0.85" />
<line x1="423.90" y1="230.80" x2="427.10" y2="230.80" stroke="#777" stroke-width="0.85" />
<line x1="425.50" y1="229.20" x2="425.50" y2="232.40" stroke="#777" stroke-width="0.85" />
<line x1="444.10" y1="230.80" x2="447.30" y2="230.80" stroke="#777" stroke-width="0.85" />
<line x1="445.70" y1="229.20" x2="445.70" y2="232.40" stroke="#777" stroke-width="0.85" />
<line x1="465.54" y1="230.80" x2="467.46" y2="230.80" stroke="#777" stroke-width="0.85" />
<line x1="485.30" y1="230.80" x2="488.50" y2="230.80" stroke="#777" stroke-width="0.85" />
<line x1="486.90" y1="229.20" x2="486.90" y2="232.40" stroke="#777" stroke-width="0.85" />
<line x1="505.90" y1="230.80" x2="509.10" y2="230.80" stroke="#777" stroke-width="0.85" />
<line x1="507.50" y1="229.20" x2="507.50" y2="232.40" stroke="#777" stroke-width="0.85" />
<text x="384.00" y="159.80" font-size="7.95" font-family='"Liberation Serif", serif' font-weight="bold" fill="#2a2a2a" text-anchor="middle" textLength="46.00" lengthAdjust="spacingAndGlyphs" transform="rotate(-90 384.00 159.80)" stroke="#2a2a2a" stroke-width="0.05">Fold Increase</text>
<text x="396.00" y="144.60" font-size="7.64" font-family='"Liberation Serif", serif' font-weight="bold" fill="#111" textLength="13.70" lengthAdjust="spacingAndGlyphs" stroke="#111" stroke-width="0.08">N=3</text>
<line x1="424.30" y1="138.00" x2="424.30" y2="173.00" stroke="#888" stroke-width="0.6" />
<line x1="424.30" y1="138.00" x2="445.00" y2="138.00" stroke="#888" stroke-width="0.6" />
<path d="M443.50,139.90 L446.50,139.90 L445.00,142.20 Z" fill="#222" stroke="none" stroke-width="1" />
<line x1="426.90" y1="155.90" x2="426.90" y2="173.00" stroke="#888" stroke-width="0.6" />
<line x1="426.90" y1="155.90" x2="483.80" y2="155.90" stroke="#888" stroke-width="0.6" />
<line x1="483.80" y1="155.90" x2="483.80" y2="160.00" stroke="#888" stroke-width="0.6" />
<rect x="483.20" y="160.10" width="1.60" height="2.20" fill="#222" stroke="none" stroke-width="1" />
<path d="M422.61,173.40 L425.99,173.40 L424.30,176.00 Z" fill="#222" stroke="none" stroke-width="1" />
<path d="M425.61,173.40 L428.99,173.40 L427.30,176.00 Z" fill="#222" stroke="none" stroke-width="1" />
<text x="462.40" y="145.30" font-size="7.98" font-family='"Liberation Serif", serif' font-style="italic" font-weight="bold" fill="#1a1a1a" stroke="#1a1a1a" stroke-width="0.22" textLength="26.90" lengthAdjust="spacingAndGlyphs">P ≤ .015</text>
<text x="42.60" y="252.30" font-size="7.47" font-family='"Liberation Serif", serif' font-weight="bold" fill="#111" textLength="67.40" lengthAdjust="spacingAndGlyphs" stroke="#111" stroke-width="0.12">GCSFR in U937 cells</text>
<text x="36.50" y="320.09" font-size="3.30" font-family='"Liberation Serif", serif' font-weight="normal" fill="#808080" text-anchor="end">0.85</text>
<line x1="38.30" y1="319.00" x2="39.50" y2="319.00" stroke="#bbb" stroke-width="0.5" />
<line x1="39.50" y1="306.40" x2="158.60" y2="306.40" stroke="#ececec" stroke-width="0.6" />
<text x="36.50" y="307.49" font-size="3.30" font-family='"Liberation Serif", serif' font-weight="normal" fill="#808080" text-anchor="end">0.9</text>
<line x1="38.30" y1="306.40" x2="39.50" y2="306.40" stroke="#bbb" stroke-width="0.5" />
<line x1="39.50" y1="293.80" x2="158.60" y2="293.80" stroke="#ececec" stroke-width="0.6" />
<text x="36.50" y="294.89" font-size="3.30" font-family='"Liberation Serif", serif' font-weight="normal" fill="#808080" text-anchor="end">0.95</text>
<line x1="38.30" y1="293.80" x2="39.50" y2="293.80" stroke="#bbb" stroke-width="0.5" />
<line x1="39.50" y1="281.20" x2="158.60" y2="281.20" stroke="#ececec" stroke-width="0.6" />
<text x="36.50" y="282.29" font-size="3.30" font-family='"Liberation Serif", serif' font-weight="normal" fill="#808080" text-anchor="end">1</text>
<line x1="38.30" y1="281.20" x2="39.50" y2="281.20" stroke="#bbb" stroke-width="0.5" />
<line x1="39.50" y1="268.60" x2="158.60" y2="268.60" stroke="#ececec" stroke-width="0.6" />
<text x="36.50" y="269.69" font-size="3.30" font-family='"Liberation Serif", serif' font-weight="normal" fill="#808080" text-anchor="end">1.05</text>
<line x1="38.30" y1="268.60" x2="39.50" y2="268.60" stroke="#bbb" stroke-width="0.5" />
<text x="36.50" y="257.09" font-size="3.30" font-family='"Liberation Serif", serif' font-weight="normal" fill="#808080" text-anchor="end">1.1</text>
<line x1="38.30" y1="256.00" x2="39.50" y2="256.00" stroke="#bbb" stroke-width="0.5" />
<rect x="39.50" y="256.20" width="119.10" height="62.80" fill="none" stroke="#d8d8d8" stroke-width="0.7" />
<line x1="39.50" y1="319.00" x2="158.60" y2="319.00" stroke="#c0c0c0" stroke-width="0.8" />
<rect x="45.10" y="281.20" width="8.60" height="37.80" fill="#8d8d8d" stroke="#777" stroke-width="0.5" />
<rect x="65.30" y="293.30" width="8.60" height="25.70" fill="#8d8d8d" stroke="#777" stroke-width="0.5" />
<line x1="69.60" y1="292.29" x2="69.60" y2="294.30" stroke="#555" stroke-width="0.5" />
<line x1="68.40" y1="292.29" x2="70.80" y2="292.29" stroke="#555" stroke-width="0.5" />
<line x1="68.40" y1="294.30" x2="70.80" y2="294.30" stroke="#555" stroke-width="0.5" />
<rect x="85.20" y="262.05" width="8.60" height="56.95" fill="#8d8d8d" stroke="#777" stroke-width="0.5" />
<line x1="89.50" y1="261.04" x2="89.50" y2="263.06" stroke="#555" stroke-width="0.5" />
<line x1="88.30" y1="261.04" x2="90.70" y2="261.04" stroke="#555" stroke-width="0.5" />
<line x1="88.30" y1="263.06" x2="90.70" y2="263.06" stroke="#555" stroke-width="0.5" />
<rect x="104.90" y="281.20" width="8.60" height="37.80" fill="#8d8d8d" stroke="#777" stroke-width="0.5" />
<rect x="125.00" y="271.88" width="8.60" height="47.12" fill="#8d8d8d" stroke="#777" stroke-width="0.5" />
<line x1="129.30" y1="268.85" x2="129.30" y2="274.90" stroke="#555" stroke-width="0.5" />
<line x1="128.10" y1="268.85" x2="130.50" y2="268.85" stroke="#555" stroke-width="0.5" />
<line x1="128.10" y1="274.90" x2="130.50" y2="274.90" stroke="#555" stroke-width="0.5" />
<rect x="145.50" y="264.57" width="8.60" height="54.43" fill="#8d8d8d" stroke="#777" stroke-width="0.5" />
<line x1="149.80" y1="259.78" x2="149.80" y2="269.36" stroke="#555" stroke-width="0.5" />
<line x1="148.60" y1="259.78" x2="151.00" y2="259.78" stroke="#555" stroke-width="0.5" />
<line x1="148.60" y1="269.36" x2="151.00" y2="269.36" stroke="#555" stroke-width="0.5" />
<text x="39.20" y="328.70" font-size="7.50" font-family='"Liberation Serif", serif' font-weight="bold" fill="#2a2a2a" text-anchor="end" textLength="33.70" lengthAdjust="spacingAndGlyphs" stroke="#2a2a2a" stroke-width="0.08">Ctr.siRNA</text>
<line x1="47.80" y1="324.20" x2="51.00" y2="324.20" stroke="#777" stroke-width="0.85" />
<line x1="49.40" y1="322.60" x2="49.40" y2="325.80" stroke="#777" stroke-width="0.85" />
<line x1="68.00" y1="324.20" x2="71.20" y2="324.20" stroke="#777" stroke-width="0.85" />
<line x1="69.60" y1="322.60" x2="69.60" y2="325.80" stroke="#777" stroke-width="0.85" />
<line x1="87.90" y1="324.20" x2="91.10" y2="324.20" stroke="#777" stroke-width="0.85" />
<line x1="89.50" y1="322.60" x2="89.50" y2="325.80" stroke="#777" stroke-width="0.85" />
<line x1="108.24" y1="324.20" x2="110.16" y2="324.20" stroke="#777" stroke-width="0.85" />
<line x1="128.34" y1="324.20" x2="130.26" y2="324.20" stroke="#777" stroke-width="0.85" />
<line x1="148.84" y1="324.20" x2="150.76" y2="324.20" stroke="#777" stroke-width="0.85" />
<text x="39.20" y="337.30" font-size="7.50" font-family='"Liberation Serif", serif' font-weight="bold" fill="#2a2a2a" text-anchor="end" textLength="37.20" lengthAdjust="spacingAndGlyphs" stroke="#2a2a2a" stroke-width="0.08">Ube9siRNA</text>
<line x1="48.44" y1="334.20" x2="50.36" y2="334.20" stroke="#777" stroke-width="0.85" />
<line x1="68.64" y1="334.20" x2="70.56" y2="334.20" stroke="#777" stroke-width="0.85" />
<line x1="88.54" y1="334.20" x2="90.46" y2="334.20" stroke="#777" stroke-width="0.85" />
<line x1="107.60" y1="334.20" x2="110.80" y2="334.20" stroke="#777" stroke-width="0.85" />
<line x1="109.20" y1="332.60" x2="109.20" y2="335.80" stroke="#777" stroke-width="0.85" />
<line x1="127.70" y1="334.20" x2="130.90" y2="334.20" stroke="#777" stroke-width="0.85" />
<line x1="129.30" y1="332.60" x2="129.30" y2="335.80" stroke="#777" stroke-width="0.85" />
<line x1="148.20" y1="334.20" x2="151.40" y2="334.20" stroke="#777" stroke-width="0.85" />
<line x1="149.80" y1="332.60" x2="149.80" y2="335.80" stroke="#777" stroke-width="0.85" />
<text x="39.20" y="346.00" font-size="7.50" font-family='"Liberation Serif", serif' font-weight="bold" fill="#2a2a2a" text-anchor="end" textLength="38.70" lengthAdjust="spacingAndGlyphs" stroke="#2a2a2a" stroke-width="0.08">C/EBPαp30</text>
<line x1="48.44" y1="343.00" x2="50.36" y2="343.00" stroke="#777" stroke-width="0.85" />
<line x1="68.00" y1="343.00" x2="71.20" y2="343.00" stroke="#777" stroke-width="0.85" />
<line x1="69.60" y1="341.40" x2="69.60" y2="344.60" stroke="#777" stroke-width="0.85" />
<line x1="88.54" y1="343.00" x2="90.46" y2="343.00" stroke="#777" stroke-width="0.85" />
<line x1="108.24" y1="343.00" x2="110.16" y2="343.00" stroke="#777" stroke-width="0.85" />
<line x1="127.70" y1="343.00" x2="130.90" y2="343.00" stroke="#777" stroke-width="0.85" />
<line x1="129.30" y1="341.40" x2="129.30" y2="344.60" stroke="#777" stroke-width="0.85" />
<line x1="148.84" y1="343.00" x2="150.76" y2="343.00" stroke="#777" stroke-width="0.85" />
<text x="39.20" y="354.00" font-size="7.50" font-family='"Liberation Serif", serif' font-weight="bold" fill="#2a2a2a" text-anchor="end" textLength="9.50" lengthAdjust="spacingAndGlyphs" stroke="#2a2a2a" stroke-width="0.08">RA</text>
<line x1="48.44" y1="352.20" x2="50.36" y2="352.20" stroke="#777" stroke-width="0.85" />
<line x1="68.00" y1="352.20" x2="71.20" y2="352.20" stroke="#777" stroke-width="0.85" />
<line x1="69.60" y1="350.60" x2="69.60" y2="353.80" stroke="#777" stroke-width="0.85" />
<line x1="87.90" y1="352.20" x2="91.10" y2="352.20" stroke="#777" stroke-width="0.85" />
<line x1="89.50" y1="350.60" x2="89.50" y2="353.80" stroke="#777" stroke-width="0.85" />
<line x1="108.24" y1="352.20" x2="110.16" y2="352.20" stroke="#777" stroke-width="0.85" />
<line x1="127.70" y1="352.20" x2="130.90" y2="352.20" stroke="#777" stroke-width="0.85" />
<line x1="129.30" y1="350.60" x2="129.30" y2="353.80" stroke="#777" stroke-width="0.85" />
<line x1="148.20" y1="352.20" x2="151.40" y2="352.20" stroke="#777" stroke-width="0.85" />
<line x1="149.80" y1="350.60" x2="149.80" y2="353.80" stroke="#777" stroke-width="0.85" />
<text x="28.20" y="283.40" font-size="7.53" font-family='"Liberation Serif", serif' font-weight="bold" fill="#2a2a2a" text-anchor="middle" textLength="43.60" lengthAdjust="spacingAndGlyphs" transform="rotate(-90 28.20 283.40)" stroke="#2a2a2a" stroke-width="0.05">Fold Increase</text>
<text x="44.40" y="268.20" font-size="7.20" font-family='"Liberation Serif", serif' font-weight="bold" fill="#111" textLength="12.90" lengthAdjust="spacingAndGlyphs" stroke="#111" stroke-width="0.08">N=3</text>
<line x1="69.50" y1="257.40" x2="69.50" y2="286.50" stroke="#888" stroke-width="0.6" />
<line x1="69.50" y1="257.40" x2="89.50" y2="257.40" stroke="#888" stroke-width="0.6" />
<path d="M88.00,258.50 L91.00,258.50 L89.50,260.80 Z" fill="#222" stroke="none" stroke-width="1" />
<line x1="72.80" y1="267.70" x2="72.80" y2="286.50" stroke="#888" stroke-width="0.6" />
<line x1="72.80" y1="267.70" x2="125.80" y2="267.70" stroke="#888" stroke-width="0.6" />
<path d="M124.9,271 L126.8,271 L126.8,273 Z" fill="#222" stroke="none" stroke-width="1" />
<line x1="125.80" y1="267.70" x2="125.80" y2="271.00" stroke="#888" stroke-width="0.6" />
<path d="M67.41,287.20 L70.79,287.20 L69.10,289.80 Z" fill="#222" stroke="none" stroke-width="1" />
<path d="M71.61,287.20 L74.99,287.20 L73.30,289.80 Z" fill="#222" stroke="none" stroke-width="1" />
<text x="110.10" y="267.10" font-size="7.45" font-family='"Liberation Serif", serif' font-style="italic" font-weight="bold" fill="#1a1a1a" stroke="#1a1a1a" stroke-width="0.22" textLength="21.40" lengthAdjust="spacingAndGlyphs">P ≤ .02</text>
<text x="228.00" y="252.30" font-size="7.41" font-family='"Liberation Serif", serif' font-weight="bold" fill="#111" textLength="64.90" lengthAdjust="spacingAndGlyphs" stroke="#111" stroke-width="0.12">MPO in CD34+ cells</text>
<text x="211.60" y="313.66" font-size="3.20" font-family='"Liberation Serif", serif' font-weight="normal" fill="#808080" text-anchor="end">0</text>
<line x1="213.80" y1="312.60" x2="215.00" y2="312.60" stroke="#bbb" stroke-width="0.5" />
<line x1="215.00" y1="302.60" x2="328.70" y2="302.60" stroke="#ececec" stroke-width="0.6" />
<text x="211.60" y="303.66" font-size="3.20" font-family='"Liberation Serif", serif' font-weight="normal" fill="#808080" text-anchor="end">0.5</text>
<line x1="213.80" y1="302.60" x2="215.00" y2="302.60" stroke="#bbb" stroke-width="0.5" />
<line x1="215.00" y1="292.60" x2="328.70" y2="292.60" stroke="#ececec" stroke-width="0.6" />
<text x="211.60" y="293.66" font-size="3.20" font-family='"Liberation Serif", serif' font-weight="normal" fill="#808080" text-anchor="end">1</text>
<line x1="213.80" y1="292.60" x2="215.00" y2="292.60" stroke="#bbb" stroke-width="0.5" />
<line x1="215.00" y1="282.60" x2="328.70" y2="282.60" stroke="#ececec" stroke-width="0.6" />
<text x="211.60" y="283.66" font-size="3.20" font-family='"Liberation Serif", serif' font-weight="normal" fill="#808080" text-anchor="end">1.5</text>
<line x1="213.80" y1="282.60" x2="215.00" y2="282.60" stroke="#bbb" stroke-width="0.5" />
<line x1="215.00" y1="272.60" x2="328.70" y2="272.60" stroke="#ececec" stroke-width="0.6" />
<text x="211.60" y="273.66" font-size="3.20" font-family='"Liberation Serif", serif' font-weight="normal" fill="#808080" text-anchor="end">2</text>
<line x1="213.80" y1="272.60" x2="215.00" y2="272.60" stroke="#bbb" stroke-width="0.5" />
<line x1="215.00" y1="262.60" x2="328.70" y2="262.60" stroke="#ececec" stroke-width="0.6" />
<text x="211.60" y="263.66" font-size="3.20" font-family='"Liberation Serif", serif' font-weight="normal" fill="#808080" text-anchor="end">2.5</text>
<line x1="213.80" y1="262.60" x2="215.00" y2="262.60" stroke="#bbb" stroke-width="0.5" />
<text x="211.60" y="253.66" font-size="3.20" font-family='"Liberation Serif", serif' font-weight="normal" fill="#808080" text-anchor="end">3</text>
<line x1="213.80" y1="252.60" x2="215.00" y2="252.60" stroke="#bbb" stroke-width="0.5" />
<rect x="215.00" y="252.60" width="113.70" height="60.00" fill="none" stroke="#d8d8d8" stroke-width="0.7" />
<line x1="215.00" y1="312.60" x2="328.70" y2="312.60" stroke="#c0c0c0" stroke-width="0.8" />
<rect x="219.80" y="293.00" width="8.00" height="19.60" fill="#8d8d8d" stroke="#777" stroke-width="0.5" />
<rect x="238.60" y="292.00" width="8.00" height="20.60" fill="#8d8d8d" stroke="#777" stroke-width="0.5" />
<line x1="242.60" y1="291.40" x2="242.60" y2="292.60" stroke="#555" stroke-width="0.5" />
<line x1="241.40" y1="291.40" x2="243.80" y2="291.40" stroke="#555" stroke-width="0.5" />
<line x1="241.40" y1="292.60" x2="243.80" y2="292.60" stroke="#555" stroke-width="0.5" />
<rect x="258.00" y="280.20" width="8.00" height="32.40" fill="#8d8d8d" stroke="#777" stroke-width="0.5" />
<line x1="262.00" y1="271.20" x2="262.00" y2="289.20" stroke="#555" stroke-width="0.5" />
<line x1="260.80" y1="271.20" x2="263.20" y2="271.20" stroke="#555" stroke-width="0.5" />
<line x1="260.80" y1="289.20" x2="263.20" y2="289.20" stroke="#555" stroke-width="0.5" />
<rect x="276.80" y="293.00" width="8.00" height="19.60" fill="#8d8d8d" stroke="#777" stroke-width="0.5" />
<rect x="295.70" y="277.40" width="8.00" height="35.20" fill="#8d8d8d" stroke="#777" stroke-width="0.5" />
<line x1="299.70" y1="266.20" x2="299.70" y2="288.60" stroke="#555" stroke-width="0.5" />
<line x1="298.50" y1="266.20" x2="300.90" y2="266.20" stroke="#555" stroke-width="0.5" />
<line x1="298.50" y1="288.60" x2="300.90" y2="288.60" stroke="#555" stroke-width="0.5" />
<rect x="314.90" y="276.60" width="8.00" height="36.00" fill="#8d8d8d" stroke="#777" stroke-width="0.5" />
<line x1="318.90" y1="263.80" x2="318.90" y2="289.40" stroke="#555" stroke-width="0.5" />
<line x1="317.70" y1="263.80" x2="320.10" y2="263.80" stroke="#555" stroke-width="0.5" />
<line x1="317.70" y1="289.40" x2="320.10" y2="289.40" stroke="#555" stroke-width="0.5" />
<text x="212.00" y="321.20" font-size="7.50" font-family='"Liberation Serif", serif' font-weight="bold" fill="#2a2a2a" text-anchor="end" textLength="33.20" lengthAdjust="spacingAndGlyphs" stroke="#2a2a2a" stroke-width="0.08">Ctr.siRNA</text>
<line x1="222.20" y1="317.80" x2="225.40" y2="317.80" stroke="#777" stroke-width="0.85" />
<line x1="223.80" y1="316.20" x2="223.80" y2="319.40" stroke="#777" stroke-width="0.85" />
<line x1="241.00" y1="317.80" x2="244.20" y2="317.80" stroke="#777" stroke-width="0.85" />
<line x1="242.60" y1="316.20" x2="242.60" y2="319.40" stroke="#777" stroke-width="0.85" />
<line x1="260.40" y1="317.80" x2="263.60" y2="317.80" stroke="#777" stroke-width="0.85" />
<line x1="262.00" y1="316.20" x2="262.00" y2="319.40" stroke="#777" stroke-width="0.85" />
<line x1="279.84" y1="317.80" x2="281.76" y2="317.80" stroke="#777" stroke-width="0.85" />
<line x1="298.74" y1="317.80" x2="300.66" y2="317.80" stroke="#777" stroke-width="0.85" />
<line x1="317.94" y1="317.80" x2="319.86" y2="317.80" stroke="#777" stroke-width="0.85" />
<text x="212.00" y="329.30" font-size="7.50" font-family='"Liberation Serif", serif' font-weight="bold" fill="#2a2a2a" text-anchor="end" textLength="36.60" lengthAdjust="spacingAndGlyphs" stroke="#2a2a2a" stroke-width="0.08">Ube9siRNA</text>
<line x1="222.84" y1="327.00" x2="224.76" y2="327.00" stroke="#777" stroke-width="0.85" />
<line x1="241.64" y1="327.00" x2="243.56" y2="327.00" stroke="#777" stroke-width="0.85" />
<line x1="261.04" y1="327.00" x2="262.96" y2="327.00" stroke="#777" stroke-width="0.85" />
<line x1="279.20" y1="327.00" x2="282.40" y2="327.00" stroke="#777" stroke-width="0.85" />
<line x1="280.80" y1="325.40" x2="280.80" y2="328.60" stroke="#777" stroke-width="0.85" />
<line x1="298.10" y1="327.00" x2="301.30" y2="327.00" stroke="#777" stroke-width="0.85" />
<line x1="299.70" y1="325.40" x2="299.70" y2="328.60" stroke="#777" stroke-width="0.85" />
<line x1="317.30" y1="327.00" x2="320.50" y2="327.00" stroke="#777" stroke-width="0.85" />
<line x1="318.90" y1="325.40" x2="318.90" y2="328.60" stroke="#777" stroke-width="0.85" />
<text x="212.00" y="336.80" font-size="7.50" font-family='"Liberation Serif", serif' font-weight="bold" fill="#2a2a2a" text-anchor="end" textLength="37.40" lengthAdjust="spacingAndGlyphs" stroke="#2a2a2a" stroke-width="0.08">C/EBPαp30</text>
<line x1="222.84" y1="335.80" x2="224.76" y2="335.80" stroke="#777" stroke-width="0.85" />
<line x1="241.00" y1="335.80" x2="244.20" y2="335.80" stroke="#777" stroke-width="0.85" />
<line x1="242.60" y1="334.20" x2="242.60" y2="337.40" stroke="#777" stroke-width="0.85" />
<line x1="261.04" y1="335.80" x2="262.96" y2="335.80" stroke="#777" stroke-width="0.85" />
<line x1="279.84" y1="335.80" x2="281.76" y2="335.80" stroke="#777" stroke-width="0.85" />
<line x1="298.10" y1="335.80" x2="301.30" y2="335.80" stroke="#777" stroke-width="0.85" />
<line x1="299.70" y1="334.20" x2="299.70" y2="337.40" stroke="#777" stroke-width="0.85" />
<line x1="317.94" y1="335.80" x2="319.86" y2="335.80" stroke="#777" stroke-width="0.85" />
<text x="212.00" y="345.40" font-size="7.50" font-family='"Liberation Serif", serif' font-weight="bold" fill="#2a2a2a" text-anchor="end" textLength="18.70" lengthAdjust="spacingAndGlyphs" stroke="#2a2a2a" stroke-width="0.08">GCSF</text>
<line x1="222.84" y1="345.30" x2="224.76" y2="345.30" stroke="#777" stroke-width="0.85" />
<line x1="241.00" y1="345.30" x2="244.20" y2="345.30" stroke="#777" stroke-width="0.85" />
<line x1="242.60" y1="343.70" x2="242.60" y2="346.90" stroke="#777" stroke-width="0.85" />
<line x1="260.40" y1="345.30" x2="263.60" y2="345.30" stroke="#777" stroke-width="0.85" />
<line x1="262.00" y1="343.70" x2="262.00" y2="346.90" stroke="#777" stroke-width="0.85" />
<line x1="279.84" y1="345.30" x2="281.76" y2="345.30" stroke="#777" stroke-width="0.85" />
<line x1="298.10" y1="345.30" x2="301.30" y2="345.30" stroke="#777" stroke-width="0.85" />
<line x1="299.70" y1="343.70" x2="299.70" y2="346.90" stroke="#777" stroke-width="0.85" />
<line x1="317.30" y1="345.30" x2="320.50" y2="345.30" stroke="#777" stroke-width="0.85" />
<line x1="318.90" y1="343.70" x2="318.90" y2="346.90" stroke="#777" stroke-width="0.85" />
<text x="204.70" y="282.50" font-size="7.53" font-family='"Liberation Serif", serif' font-weight="bold" fill="#2a2a2a" text-anchor="middle" textLength="43.60" lengthAdjust="spacingAndGlyphs" transform="rotate(-90 204.70 282.50)" stroke="#2a2a2a" stroke-width="0.05">Fold Increase</text>
<text x="295.80" y="261.00" font-size="7.25" font-family='"Liberation Serif", serif' font-weight="bold" fill="#111" textLength="13.00" lengthAdjust="spacingAndGlyphs" stroke="#111" stroke-width="0.08">N=3</text>
<line x1="242.70" y1="260.60" x2="242.70" y2="285.00" stroke="#888" stroke-width="0.6" />
<line x1="242.70" y1="260.60" x2="262.10" y2="260.60" stroke="#888" stroke-width="0.6" />
<line x1="262.10" y1="260.60" x2="262.10" y2="267.00" stroke="#888" stroke-width="0.6" />
<path d="M260.61,267.70 L263.60,267.70 L262.10,270.00 Z" fill="#222" stroke="none" stroke-width="1" />
<path d="M241.20,285.70 L244.19,285.70 L242.70,288.00 Z" fill="#222" stroke="none" stroke-width="1" />
<text x="236.60" y="274.80" font-size="8.15" font-family='"Liberation Serif", serif' font-style="italic" font-weight="bold" fill="#1a1a1a" stroke="#1a1a1a" stroke-width="0.22" textLength="23.40" lengthAdjust="spacingAndGlyphs">P ≤ .05</text>
<text x="412.70" y="261.00" font-size="7.92" font-family='"Liberation Serif", serif' font-weight="bold" fill="#111" textLength="63.10" lengthAdjust="spacingAndGlyphs" stroke="#111" stroke-width="0.12">MPO in U937 cells</text>
<text x="393.20" y="323.86" font-size="3.20" font-family='"Liberation Serif", serif' font-weight="normal" fill="#808080" text-anchor="end">0.92</text>
<line x1="394.40" y1="322.80" x2="395.60" y2="322.80" stroke="#bbb" stroke-width="0.5" />
<line x1="395.60" y1="316.88" x2="515.20" y2="316.88" stroke="#ececec" stroke-width="0.6" />
<text x="393.20" y="317.94" font-size="3.20" font-family='"Liberation Serif", serif' font-weight="normal" fill="#808080" text-anchor="end">0.94</text>
<line x1="394.40" y1="316.88" x2="395.60" y2="316.88" stroke="#bbb" stroke-width="0.5" />
<line x1="395.60" y1="310.96" x2="515.20" y2="310.96" stroke="#ececec" stroke-width="0.6" />
<text x="393.20" y="312.02" font-size="3.20" font-family='"Liberation Serif", serif' font-weight="normal" fill="#808080" text-anchor="end">0.96</text>
<line x1="394.40" y1="310.96" x2="395.60" y2="310.96" stroke="#bbb" stroke-width="0.5" />
<line x1="395.60" y1="305.04" x2="515.20" y2="305.04" stroke="#ececec" stroke-width="0.6" />
<text x="393.20" y="306.10" font-size="3.20" font-family='"Liberation Serif", serif' font-weight="normal" fill="#808080" text-anchor="end">0.98</text>
<line x1="394.40" y1="305.04" x2="395.60" y2="305.04" stroke="#bbb" stroke-width="0.5" />
<line x1="395.60" y1="299.12" x2="515.20" y2="299.12" stroke="#ececec" stroke-width="0.6" />
<text x="393.20" y="300.18" font-size="3.20" font-family='"Liberation Serif", serif' font-weight="normal" fill="#808080" text-anchor="end">1</text>
<line x1="394.40" y1="299.12" x2="395.60" y2="299.12" stroke="#bbb" stroke-width="0.5" />
<line x1="395.60" y1="293.20" x2="515.20" y2="293.20" stroke="#ececec" stroke-width="0.6" />
<text x="393.20" y="294.26" font-size="3.20" font-family='"Liberation Serif", serif' font-weight="normal" fill="#808080" text-anchor="end">1.02</text>
<line x1="394.40" y1="293.20" x2="395.60" y2="293.20" stroke="#bbb" stroke-width="0.5" />
<line x1="395.60" y1="287.28" x2="515.20" y2="287.28" stroke="#ececec" stroke-width="0.6" />
<text x="393.20" y="288.34" font-size="3.20" font-family='"Liberation Serif", serif' font-weight="normal" fill="#808080" text-anchor="end">1.04</text>
<line x1="394.40" y1="287.28" x2="395.60" y2="287.28" stroke="#bbb" stroke-width="0.5" />
<line x1="395.60" y1="281.36" x2="515.20" y2="281.36" stroke="#ececec" stroke-width="0.6" />
<text x="393.20" y="282.42" font-size="3.20" font-family='"Liberation Serif", serif' font-weight="normal" fill="#808080" text-anchor="end">1.06</text>
<line x1="394.40" y1="281.36" x2="395.60" y2="281.36" stroke="#bbb" stroke-width="0.5" />
<line x1="395.60" y1="275.44" x2="515.20" y2="275.44" stroke="#ececec" stroke-width="0.6" />
<text x="393.20" y="276.50" font-size="3.20" font-family='"Liberation Serif", serif' font-weight="normal" fill="#808080" text-anchor="end">1.08</text>
<line x1="394.40" y1="275.44" x2="395.60" y2="275.44" stroke="#bbb" stroke-width="0.5" />
<line x1="395.60" y1="269.52" x2="515.20" y2="269.52" stroke="#ececec" stroke-width="0.6" />
<text x="393.20" y="270.58" font-size="3.20" font-family='"Liberation Serif", serif' font-weight="normal" fill="#808080" text-anchor="end">1.1</text>
<line x1="394.40" y1="269.52" x2="395.60" y2="269.52" stroke="#bbb" stroke-width="0.5" />
<line x1="395.60" y1="263.60" x2="515.20" y2="263.60" stroke="#ececec" stroke-width="0.6" />
<text x="393.20" y="264.66" font-size="3.20" font-family='"Liberation Serif", serif' font-weight="normal" fill="#808080" text-anchor="end">1.12</text>
<line x1="394.40" y1="263.60" x2="395.60" y2="263.60" stroke="#bbb" stroke-width="0.5" />
<rect x="395.60" y="262.80" width="119.60" height="60.00" fill="none" stroke="#d8d8d8" stroke-width="0.7" />
<line x1="395.60" y1="322.80" x2="515.20" y2="322.80" stroke="#c0c0c0" stroke-width="0.8" />
<rect x="401.50" y="298.82" width="8.40" height="23.98" fill="#8d8d8d" stroke="#777" stroke-width="0.5" />
<rect x="422.20" y="300.30" width="8.40" height="22.50" fill="#8d8d8d" stroke="#777" stroke-width="0.5" />
<line x1="426.40" y1="299.42" x2="426.40" y2="301.19" stroke="#555" stroke-width="0.5" />
<line x1="425.20" y1="299.42" x2="427.60" y2="299.42" stroke="#555" stroke-width="0.5" />
<line x1="425.20" y1="301.19" x2="427.60" y2="301.19" stroke="#555" stroke-width="0.5" />
<rect x="442.30" y="279.88" width="8.40" height="42.92" fill="#8d8d8d" stroke="#777" stroke-width="0.5" />
<line x1="446.50" y1="278.10" x2="446.50" y2="281.66" stroke="#555" stroke-width="0.5" />
<line x1="445.30" y1="278.10" x2="447.70" y2="278.10" stroke="#555" stroke-width="0.5" />
<line x1="445.30" y1="281.66" x2="447.70" y2="281.66" stroke="#555" stroke-width="0.5" />
<rect x="461.90" y="299.42" width="8.40" height="23.38" fill="#8d8d8d" stroke="#777" stroke-width="0.5" />
<rect x="482.40" y="275.44" width="8.40" height="47.36" fill="#8d8d8d" stroke="#777" stroke-width="0.5" />
<line x1="486.60" y1="274.55" x2="486.60" y2="276.33" stroke="#555" stroke-width="0.5" />
<line x1="485.40" y1="274.55" x2="487.80" y2="274.55" stroke="#555" stroke-width="0.5" />
<line x1="485.40" y1="276.33" x2="487.80" y2="276.33" stroke="#555" stroke-width="0.5" />
<rect x="502.00" y="272.48" width="8.40" height="50.32" fill="#8d8d8d" stroke="#777" stroke-width="0.5" />
<line x1="506.20" y1="268.63" x2="506.20" y2="276.33" stroke="#555" stroke-width="0.5" />
<line x1="505.00" y1="268.63" x2="507.40" y2="268.63" stroke="#555" stroke-width="0.5" />
<line x1="505.00" y1="276.33" x2="507.40" y2="276.33" stroke="#555" stroke-width="0.5" />
<text x="393.70" y="333.50" font-size="7.50" font-family='"Liberation Serif", serif' font-weight="bold" fill="#2a2a2a" text-anchor="end" textLength="35.40" lengthAdjust="spacingAndGlyphs" stroke="#2a2a2a" stroke-width="0.08">Ctr.siRNA</text>
<line x1="404.10" y1="329.40" x2="407.30" y2="329.40" stroke="#777" stroke-width="0.85" />
<line x1="405.70" y1="327.80" x2="405.70" y2="331.00" stroke="#777" stroke-width="0.85" />
<line x1="424.80" y1="329.40" x2="428.00" y2="329.40" stroke="#777" stroke-width="0.85" />
<line x1="426.40" y1="327.80" x2="426.40" y2="331.00" stroke="#777" stroke-width="0.85" />
<line x1="444.90" y1="329.40" x2="448.10" y2="329.40" stroke="#777" stroke-width="0.85" />
<line x1="446.50" y1="327.80" x2="446.50" y2="331.00" stroke="#777" stroke-width="0.85" />
<line x1="465.14" y1="329.40" x2="467.06" y2="329.40" stroke="#777" stroke-width="0.85" />
<line x1="485.64" y1="329.40" x2="487.56" y2="329.40" stroke="#777" stroke-width="0.85" />
<line x1="505.24" y1="329.40" x2="507.16" y2="329.40" stroke="#777" stroke-width="0.85" />
<text x="393.70" y="342.20" font-size="7.50" font-family='"Liberation Serif", serif' font-weight="bold" fill="#2a2a2a" text-anchor="end" textLength="39.00" lengthAdjust="spacingAndGlyphs" stroke="#2a2a2a" stroke-width="0.08">Ube9siRNA</text>
<line x1="404.74" y1="339.50" x2="406.66" y2="339.50" stroke="#777" stroke-width="0.85" />
<line x1="425.44" y1="339.50" x2="427.36" y2="339.50" stroke="#777" stroke-width="0.85" />
<line x1="445.54" y1="339.50" x2="447.46" y2="339.50" stroke="#777" stroke-width="0.85" />
<line x1="464.50" y1="339.50" x2="467.70" y2="339.50" stroke="#777" stroke-width="0.85" />
<line x1="466.10" y1="337.90" x2="466.10" y2="341.10" stroke="#777" stroke-width="0.85" />
<line x1="485.00" y1="339.50" x2="488.20" y2="339.50" stroke="#777" stroke-width="0.85" />
<line x1="486.60" y1="337.90" x2="486.60" y2="341.10" stroke="#777" stroke-width="0.85" />
<line x1="504.60" y1="339.50" x2="507.80" y2="339.50" stroke="#777" stroke-width="0.85" />
<line x1="506.20" y1="337.90" x2="506.20" y2="341.10" stroke="#777" stroke-width="0.85" />
<text x="393.70" y="351.40" font-size="7.50" font-family='"Liberation Serif", serif' font-weight="bold" fill="#2a2a2a" text-anchor="end" textLength="40.40" lengthAdjust="spacingAndGlyphs" stroke="#2a2a2a" stroke-width="0.08">C/EBPαp30</text>
<line x1="404.74" y1="348.60" x2="406.66" y2="348.60" stroke="#777" stroke-width="0.85" />
<line x1="424.80" y1="348.60" x2="428.00" y2="348.60" stroke="#777" stroke-width="0.85" />
<line x1="426.40" y1="347.00" x2="426.40" y2="350.20" stroke="#777" stroke-width="0.85" />
<line x1="445.54" y1="348.60" x2="447.46" y2="348.60" stroke="#777" stroke-width="0.85" />
<line x1="465.14" y1="348.60" x2="467.06" y2="348.60" stroke="#777" stroke-width="0.85" />
<line x1="485.00" y1="348.60" x2="488.20" y2="348.60" stroke="#777" stroke-width="0.85" />
<line x1="486.60" y1="347.00" x2="486.60" y2="350.20" stroke="#777" stroke-width="0.85" />
<line x1="505.24" y1="348.60" x2="507.16" y2="348.60" stroke="#777" stroke-width="0.85" />
<text x="393.70" y="360.10" font-size="7.50" font-family='"Liberation Serif", serif' font-weight="bold" fill="#2a2a2a" text-anchor="end" textLength="10.40" lengthAdjust="spacingAndGlyphs" stroke="#2a2a2a" stroke-width="0.08">RA</text>
<line x1="404.74" y1="358.20" x2="406.66" y2="358.20" stroke="#777" stroke-width="0.85" />
<line x1="424.80" y1="358.20" x2="428.00" y2="358.20" stroke="#777" stroke-width="0.85" />
<line x1="426.40" y1="356.60" x2="426.40" y2="359.80" stroke="#777" stroke-width="0.85" />
<line x1="444.90" y1="358.20" x2="448.10" y2="358.20" stroke="#777" stroke-width="0.85" />
<line x1="446.50" y1="356.60" x2="446.50" y2="359.80" stroke="#777" stroke-width="0.85" />
<line x1="465.14" y1="358.20" x2="467.06" y2="358.20" stroke="#777" stroke-width="0.85" />
<line x1="485.00" y1="358.20" x2="488.20" y2="358.20" stroke="#777" stroke-width="0.85" />
<line x1="486.60" y1="356.60" x2="486.60" y2="359.80" stroke="#777" stroke-width="0.85" />
<line x1="504.60" y1="358.20" x2="507.80" y2="358.20" stroke="#777" stroke-width="0.85" />
<line x1="506.20" y1="356.60" x2="506.20" y2="359.80" stroke="#777" stroke-width="0.85" />
<text x="383.60" y="292.50" font-size="7.47" font-family='"Liberation Serif", serif' font-weight="bold" fill="#2a2a2a" text-anchor="middle" textLength="43.20" lengthAdjust="spacingAndGlyphs" transform="rotate(-90 383.60 292.50)" stroke="#2a2a2a" stroke-width="0.05">Fold Increase</text>
<text x="487.00" y="270.00" font-size="7.81" font-family='"Liberation Serif", serif' font-weight="bold" fill="#111" textLength="14.00" lengthAdjust="spacingAndGlyphs" stroke="#111" stroke-width="0.08">N=3</text>
<line x1="427.10" y1="267.30" x2="427.10" y2="294.50" stroke="#888" stroke-width="0.6" />
<line x1="427.10" y1="267.30" x2="448.00" y2="267.30" stroke="#888" stroke-width="0.6" />
<line x1="448.00" y1="267.30" x2="448.00" y2="270.00" stroke="#888" stroke-width="0.6" />
<path d="M446.50,270.30 L449.50,270.30 L448.00,272.60 Z" fill="#222" stroke="none" stroke-width="1" />
<path d="M425.61,295.20 L428.60,295.20 L427.10,297.50 Z" fill="#222" stroke="none" stroke-width="1" />
<text x="408.60" y="279.70" font-size="8.07" font-family='"Liberation Serif", serif' font-style="italic" font-weight="bold" fill="#1a1a1a" stroke="#1a1a1a" stroke-width="0.22" textLength="27.20" lengthAdjust="spacingAndGlyphs">P ≤ .005</text>
</svg>
</body></html>
